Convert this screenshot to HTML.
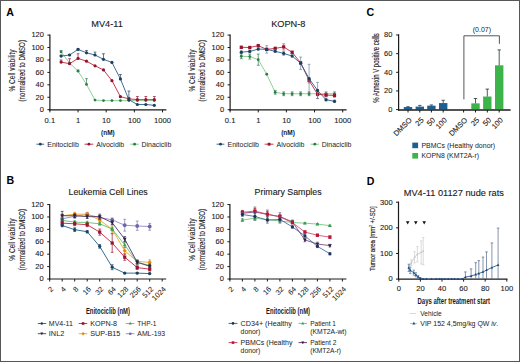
<!DOCTYPE html>
<html><head><meta charset="utf-8"><style>
html,body{margin:0;padding:0;background:#fff;}
body{width:520px;height:362px;overflow:hidden;position:relative;font-family:"Liberation Sans",sans-serif;}
</style></head><body>
<svg width="520" height="362" viewBox="0 0 520 362" style="position:absolute;left:0;top:0">
<g font-family="Liberation Sans, sans-serif">
<rect x="0" y="0" width="520" height="362" fill="#fff"/>
<text x="6.2" y="15.8" font-size="10.6" text-anchor="start" font-weight="bold" fill="#000">A</text>
<text x="6.6" y="184.2" font-size="10.6" text-anchor="start" font-weight="bold" fill="#000">B</text>
<text x="366.4" y="16.3" font-size="10.6" text-anchor="start" font-weight="bold" fill="#000">C</text>
<text x="366.8" y="184.6" font-size="10.6" text-anchor="start" font-weight="bold" fill="#000">D</text>
<text x="107" y="26.6" font-size="9.2" text-anchor="middle" font-weight="normal" fill="#1a1a1a" stroke="#1a1a1a" stroke-width="0.12">MV4-11</text>
<text x="0" y="0" transform="translate(14.6,70.5) rotate(-90)" font-size="8.2" text-anchor="middle" font-weight="normal" fill="#1a1a1a" stroke="#1a1a1a" stroke-width="0.1" textLength="42.2" lengthAdjust="spacingAndGlyphs">% Cell viability</text>
<text x="0" y="0" transform="translate(24.5,70.75) rotate(-90)" font-size="8.2" text-anchor="middle" font-weight="normal" fill="#1a1a1a" stroke="#1a1a1a" stroke-width="0.1" textLength="61.4" lengthAdjust="spacingAndGlyphs">(normalized to DMSO)</text>
<line x1="49.9" y1="34.4" x2="49.9" y2="110.5" stroke="#1a1a1a" stroke-width="1.2"/>
<line x1="47.4" y1="109.7" x2="49.9" y2="109.7" stroke="#1a1a1a" stroke-width="1.0"/>
<text x="43.9" y="112" font-size="7.5" text-anchor="end" font-weight="normal" fill="#1a1a1a" stroke="#1a1a1a" stroke-width="0.1">0</text>
<line x1="47.4" y1="97.27" x2="49.9" y2="97.27" stroke="#1a1a1a" stroke-width="1.0"/>
<text x="43.9" y="99.57" font-size="7.5" text-anchor="end" font-weight="normal" fill="#1a1a1a" stroke="#1a1a1a" stroke-width="0.1">20</text>
<line x1="47.4" y1="84.83" x2="49.9" y2="84.83" stroke="#1a1a1a" stroke-width="1.0"/>
<text x="43.9" y="87.13" font-size="7.5" text-anchor="end" font-weight="normal" fill="#1a1a1a" stroke="#1a1a1a" stroke-width="0.1">40</text>
<line x1="47.4" y1="72.4" x2="49.9" y2="72.4" stroke="#1a1a1a" stroke-width="1.0"/>
<text x="43.9" y="74.7" font-size="7.5" text-anchor="end" font-weight="normal" fill="#1a1a1a" stroke="#1a1a1a" stroke-width="0.1">60</text>
<line x1="47.4" y1="59.96" x2="49.9" y2="59.96" stroke="#1a1a1a" stroke-width="1.0"/>
<text x="43.9" y="62.26" font-size="7.5" text-anchor="end" font-weight="normal" fill="#1a1a1a" stroke="#1a1a1a" stroke-width="0.1">80</text>
<line x1="47.4" y1="47.53" x2="49.9" y2="47.53" stroke="#1a1a1a" stroke-width="1.0"/>
<text x="43.9" y="49.83" font-size="7.5" text-anchor="end" font-weight="normal" fill="#1a1a1a" stroke="#1a1a1a" stroke-width="0.1">100</text>
<line x1="47.4" y1="35.1" x2="49.9" y2="35.1" stroke="#1a1a1a" stroke-width="1.0"/>
<text x="43.9" y="37.4" font-size="7.5" text-anchor="end" font-weight="normal" fill="#1a1a1a" stroke="#1a1a1a" stroke-width="0.1">120</text>
<line x1="49.3" y1="109.9" x2="166.4" y2="109.9" stroke="#1a1a1a" stroke-width="1.2"/>
<line x1="49.9" y1="109.9" x2="49.9" y2="112.4" stroke="#1a1a1a" stroke-width="1.0"/>
<line x1="78.05" y1="109.9" x2="78.05" y2="112.4" stroke="#1a1a1a" stroke-width="1.0"/>
<line x1="106.2" y1="109.9" x2="106.2" y2="112.4" stroke="#1a1a1a" stroke-width="1.0"/>
<line x1="134.35" y1="109.9" x2="134.35" y2="112.4" stroke="#1a1a1a" stroke-width="1.0"/>
<line x1="162.5" y1="109.9" x2="162.5" y2="112.4" stroke="#1a1a1a" stroke-width="1.0"/>
<text x="49.9" y="122.6" font-size="7.6" text-anchor="middle" font-weight="normal" fill="#1a1a1a" stroke="#1a1a1a" stroke-width="0.1">0.1</text>
<text x="78.05" y="122.6" font-size="7.6" text-anchor="middle" font-weight="normal" fill="#1a1a1a" stroke="#1a1a1a" stroke-width="0.1">1</text>
<text x="106.2" y="122.6" font-size="7.6" text-anchor="middle" font-weight="normal" fill="#1a1a1a" stroke="#1a1a1a" stroke-width="0.1">10</text>
<text x="134.35" y="122.6" font-size="7.6" text-anchor="middle" font-weight="normal" fill="#1a1a1a" stroke="#1a1a1a" stroke-width="0.1">100</text>
<text x="162.5" y="122.6" font-size="7.6" text-anchor="middle" font-weight="normal" fill="#1a1a1a" stroke="#1a1a1a" stroke-width="0.1">1000</text>
<text x="107.9" y="134.7" font-size="8.1" text-anchor="middle" font-weight="bold" fill="#1a1a1a" textLength="13.8" lengthAdjust="spacingAndGlyphs">(nM)</text>
<polyline points="61.1,51.88 69.58,63.07 78.05,71.15 86.52,84.46 95,100.06 103.47,100.62 111.95,100.62 120.42,100.62 128.89,100.62 137.37,100.62 145.84,100.62 154.32,100.62" fill="none" stroke="#6cc878" stroke-width="0.8" stroke-linejoin="round"/>
<line x1="61.1" y1="50.64" x2="61.1" y2="51.88" stroke="#2e7a4a" stroke-width="0.7"/>
<line x1="59.7" y1="50.64" x2="62.5" y2="50.64" stroke="#2e7a4a" stroke-width="0.7"/>
<line x1="78.05" y1="69.91" x2="78.05" y2="71.15" stroke="#2e7a4a" stroke-width="0.7"/>
<line x1="76.65" y1="69.91" x2="79.45" y2="69.91" stroke="#2e7a4a" stroke-width="0.7"/>
<line x1="86.52" y1="78.62" x2="86.52" y2="84.46" stroke="#2e7a4a" stroke-width="0.7"/>
<line x1="85.12" y1="78.62" x2="87.92" y2="78.62" stroke="#2e7a4a" stroke-width="0.7"/>
<circle cx="61.1" cy="51.88" r="1.4" fill="#2e7a4a"/>
<circle cx="69.58" cy="63.07" r="1.4" fill="#2e7a4a"/>
<circle cx="78.05" cy="71.15" r="1.4" fill="#2e7a4a"/>
<circle cx="86.52" cy="84.46" r="1.4" fill="#2e7a4a"/>
<circle cx="95" cy="100.06" r="1.4" fill="#2e7a4a"/>
<circle cx="103.47" cy="100.62" r="1.4" fill="#2e7a4a"/>
<circle cx="111.95" cy="100.62" r="1.4" fill="#2e7a4a"/>
<circle cx="120.42" cy="100.62" r="1.4" fill="#2e7a4a"/>
<circle cx="128.89" cy="100.62" r="1.4" fill="#2e7a4a"/>
<circle cx="137.37" cy="100.62" r="1.4" fill="#2e7a4a"/>
<circle cx="145.84" cy="100.62" r="1.4" fill="#2e7a4a"/>
<circle cx="154.32" cy="100.62" r="1.4" fill="#2e7a4a"/>
<polyline points="61.1,62.08 69.58,63.69 78.05,58.41 86.52,61.21 95,65.87 103.47,69.91 111.95,80.67 120.42,96.64 128.89,98.82 137.37,99.63 145.84,99.63 154.32,99.63" fill="none" stroke="#c42242" stroke-width="0.9" stroke-linejoin="round"/>
<line x1="61.1" y1="59.96" x2="61.1" y2="62.08" stroke="#92142e" stroke-width="0.7"/>
<line x1="59.7" y1="59.96" x2="62.5" y2="59.96" stroke="#92142e" stroke-width="0.7"/>
<line x1="69.58" y1="58.72" x2="69.58" y2="63.69" stroke="#92142e" stroke-width="0.7"/>
<line x1="68.18" y1="58.72" x2="70.98" y2="58.72" stroke="#92142e" stroke-width="0.7"/>
<line x1="78.05" y1="53.75" x2="78.05" y2="58.41" stroke="#92142e" stroke-width="0.7"/>
<line x1="76.65" y1="53.75" x2="79.45" y2="53.75" stroke="#92142e" stroke-width="0.7"/>
<line x1="128.89" y1="97.58" x2="128.89" y2="98.82" stroke="#92142e" stroke-width="0.7"/>
<line x1="127.49" y1="97.58" x2="130.29" y2="97.58" stroke="#92142e" stroke-width="0.7"/>
<line x1="137.37" y1="96.52" x2="137.37" y2="99.63" stroke="#92142e" stroke-width="0.7"/>
<line x1="135.97" y1="96.52" x2="138.77" y2="96.52" stroke="#92142e" stroke-width="0.7"/>
<line x1="145.84" y1="96.52" x2="145.84" y2="99.63" stroke="#92142e" stroke-width="0.7"/>
<line x1="144.44" y1="96.52" x2="147.24" y2="96.52" stroke="#92142e" stroke-width="0.7"/>
<line x1="154.32" y1="96.52" x2="154.32" y2="99.63" stroke="#92142e" stroke-width="0.7"/>
<line x1="152.92" y1="96.52" x2="155.72" y2="96.52" stroke="#92142e" stroke-width="0.7"/>
<circle cx="61.1" cy="62.08" r="1.6" fill="#92142e"/>
<circle cx="69.58" cy="63.69" r="1.6" fill="#92142e"/>
<circle cx="78.05" cy="58.41" r="1.6" fill="#92142e"/>
<circle cx="86.52" cy="61.21" r="1.6" fill="#92142e"/>
<circle cx="95" cy="65.87" r="1.6" fill="#92142e"/>
<circle cx="103.47" cy="69.91" r="1.6" fill="#92142e"/>
<circle cx="111.95" cy="80.67" r="1.6" fill="#92142e"/>
<circle cx="120.42" cy="96.64" r="1.6" fill="#92142e"/>
<circle cx="128.89" cy="98.82" r="1.6" fill="#92142e"/>
<circle cx="137.37" cy="99.63" r="1.6" fill="#92142e"/>
<circle cx="145.84" cy="99.63" r="1.6" fill="#92142e"/>
<circle cx="154.32" cy="99.63" r="1.6" fill="#92142e"/>
<polyline points="61.1,56.11 69.58,54.99 78.05,49.4 86.52,52.81 95,54.99 103.47,59.34 111.95,62.45 120.42,78.93 128.89,99.75 137.37,104.48 145.84,104.48 154.32,105.35" fill="none" stroke="#2a5f88" stroke-width="0.9" stroke-linejoin="round"/>
<line x1="61.1" y1="55.18" x2="61.1" y2="56.11" stroke="#1c3f5e" stroke-width="0.7"/>
<line x1="59.7" y1="55.18" x2="62.5" y2="55.18" stroke="#1c3f5e" stroke-width="0.7"/>
<line x1="69.58" y1="54.37" x2="69.58" y2="54.99" stroke="#1c3f5e" stroke-width="0.7"/>
<line x1="68.18" y1="54.37" x2="70.98" y2="54.37" stroke="#1c3f5e" stroke-width="0.7"/>
<line x1="78.05" y1="48.65" x2="78.05" y2="49.4" stroke="#1c3f5e" stroke-width="0.7"/>
<line x1="76.65" y1="48.65" x2="79.45" y2="48.65" stroke="#1c3f5e" stroke-width="0.7"/>
<line x1="86.52" y1="50.45" x2="86.52" y2="52.81" stroke="#1c3f5e" stroke-width="0.7"/>
<line x1="85.12" y1="50.45" x2="87.92" y2="50.45" stroke="#1c3f5e" stroke-width="0.7"/>
<line x1="95" y1="52.13" x2="95" y2="54.99" stroke="#1c3f5e" stroke-width="0.7"/>
<line x1="93.6" y1="52.13" x2="96.4" y2="52.13" stroke="#1c3f5e" stroke-width="0.7"/>
<line x1="103.47" y1="53.75" x2="103.47" y2="59.34" stroke="#1c3f5e" stroke-width="0.7"/>
<line x1="102.07" y1="53.75" x2="104.87" y2="53.75" stroke="#1c3f5e" stroke-width="0.7"/>
<line x1="120.42" y1="74.57" x2="120.42" y2="78.93" stroke="#1c3f5e" stroke-width="0.7"/>
<line x1="119.02" y1="74.57" x2="121.82" y2="74.57" stroke="#1c3f5e" stroke-width="0.7"/>
<line x1="128.89" y1="91.05" x2="128.89" y2="99.75" stroke="#1c3f5e" stroke-width="0.7"/>
<line x1="127.49" y1="91.05" x2="130.29" y2="91.05" stroke="#1c3f5e" stroke-width="0.7"/>
<circle cx="61.1" cy="56.11" r="1.6" fill="#1c3f5e"/>
<circle cx="69.58" cy="54.99" r="1.6" fill="#1c3f5e"/>
<circle cx="78.05" cy="49.4" r="1.6" fill="#1c3f5e"/>
<circle cx="86.52" cy="52.81" r="1.6" fill="#1c3f5e"/>
<circle cx="95" cy="54.99" r="1.6" fill="#1c3f5e"/>
<circle cx="103.47" cy="59.34" r="1.6" fill="#1c3f5e"/>
<circle cx="111.95" cy="62.45" r="1.6" fill="#1c3f5e"/>
<circle cx="120.42" cy="78.93" r="1.6" fill="#1c3f5e"/>
<circle cx="128.89" cy="99.75" r="1.6" fill="#1c3f5e"/>
<circle cx="137.37" cy="104.48" r="1.6" fill="#1c3f5e"/>
<circle cx="145.84" cy="104.48" r="1.6" fill="#1c3f5e"/>
<circle cx="154.32" cy="105.35" r="1.6" fill="#1c3f5e"/>
<line x1="36.4" y1="144.2" x2="44.2" y2="144.2" stroke="#2a5f88" stroke-width="0.9"/>
<circle cx="40.3" cy="144.2" r="1.4" fill="#1c3f5e"/>
<text x="47.3" y="146.7" font-size="7.0" text-anchor="start" font-weight="normal" fill="#1a1a1a" textLength="31.5" lengthAdjust="spacingAndGlyphs">Enitociclib</text>
<line x1="84.5" y1="144.2" x2="93.3" y2="144.2" stroke="#c42242" stroke-width="0.9"/>
<circle cx="88.9" cy="144.2" r="1.4" fill="#92142e"/>
<text x="96.3" y="146.7" font-size="7.0" text-anchor="start" font-weight="normal" fill="#1a1a1a" textLength="27.9" lengthAdjust="spacingAndGlyphs">Alvocidib</text>
<line x1="130.4" y1="144.2" x2="138.7" y2="144.2" stroke="#6cc878" stroke-width="0.9"/>
<circle cx="134.6" cy="144.2" r="1.4" fill="#2e7a4a"/>
<text x="141.5" y="146.7" font-size="7.0" text-anchor="start" font-weight="normal" fill="#1a1a1a" textLength="29.8" lengthAdjust="spacingAndGlyphs">Dinaciclib</text>
<text x="288.3" y="26.6" font-size="9.2" text-anchor="middle" font-weight="normal" fill="#1a1a1a" stroke="#1a1a1a" stroke-width="0.12">KOPN-8</text>
<text x="0" y="0" transform="translate(194.8,70.5) rotate(-90)" font-size="8.2" text-anchor="middle" font-weight="normal" fill="#1a1a1a" stroke="#1a1a1a" stroke-width="0.1" textLength="42.2" lengthAdjust="spacingAndGlyphs">% Cell viability</text>
<text x="0" y="0" transform="translate(204.7,70.75) rotate(-90)" font-size="8.2" text-anchor="middle" font-weight="normal" fill="#1a1a1a" stroke="#1a1a1a" stroke-width="0.1" textLength="61.4" lengthAdjust="spacingAndGlyphs">(normalized to DMSO)</text>
<line x1="230.1" y1="34.4" x2="230.1" y2="110.5" stroke="#1a1a1a" stroke-width="1.2"/>
<line x1="227.6" y1="109.7" x2="230.1" y2="109.7" stroke="#1a1a1a" stroke-width="1.0"/>
<text x="224.1" y="112" font-size="7.5" text-anchor="end" font-weight="normal" fill="#1a1a1a" stroke="#1a1a1a" stroke-width="0.1">0</text>
<line x1="227.6" y1="97.27" x2="230.1" y2="97.27" stroke="#1a1a1a" stroke-width="1.0"/>
<text x="224.1" y="99.57" font-size="7.5" text-anchor="end" font-weight="normal" fill="#1a1a1a" stroke="#1a1a1a" stroke-width="0.1">20</text>
<line x1="227.6" y1="84.83" x2="230.1" y2="84.83" stroke="#1a1a1a" stroke-width="1.0"/>
<text x="224.1" y="87.13" font-size="7.5" text-anchor="end" font-weight="normal" fill="#1a1a1a" stroke="#1a1a1a" stroke-width="0.1">40</text>
<line x1="227.6" y1="72.4" x2="230.1" y2="72.4" stroke="#1a1a1a" stroke-width="1.0"/>
<text x="224.1" y="74.7" font-size="7.5" text-anchor="end" font-weight="normal" fill="#1a1a1a" stroke="#1a1a1a" stroke-width="0.1">60</text>
<line x1="227.6" y1="59.96" x2="230.1" y2="59.96" stroke="#1a1a1a" stroke-width="1.0"/>
<text x="224.1" y="62.26" font-size="7.5" text-anchor="end" font-weight="normal" fill="#1a1a1a" stroke="#1a1a1a" stroke-width="0.1">80</text>
<line x1="227.6" y1="47.53" x2="230.1" y2="47.53" stroke="#1a1a1a" stroke-width="1.0"/>
<text x="224.1" y="49.83" font-size="7.5" text-anchor="end" font-weight="normal" fill="#1a1a1a" stroke="#1a1a1a" stroke-width="0.1">100</text>
<line x1="227.6" y1="35.1" x2="230.1" y2="35.1" stroke="#1a1a1a" stroke-width="1.0"/>
<text x="224.1" y="37.4" font-size="7.5" text-anchor="end" font-weight="normal" fill="#1a1a1a" stroke="#1a1a1a" stroke-width="0.1">120</text>
<line x1="229.5" y1="109.9" x2="346.6" y2="109.9" stroke="#1a1a1a" stroke-width="1.2"/>
<line x1="230.1" y1="109.9" x2="230.1" y2="112.4" stroke="#1a1a1a" stroke-width="1.0"/>
<line x1="258.25" y1="109.9" x2="258.25" y2="112.4" stroke="#1a1a1a" stroke-width="1.0"/>
<line x1="286.4" y1="109.9" x2="286.4" y2="112.4" stroke="#1a1a1a" stroke-width="1.0"/>
<line x1="314.55" y1="109.9" x2="314.55" y2="112.4" stroke="#1a1a1a" stroke-width="1.0"/>
<line x1="342.7" y1="109.9" x2="342.7" y2="112.4" stroke="#1a1a1a" stroke-width="1.0"/>
<text x="230.1" y="122.6" font-size="7.6" text-anchor="middle" font-weight="normal" fill="#1a1a1a" stroke="#1a1a1a" stroke-width="0.1">0.1</text>
<text x="258.25" y="122.6" font-size="7.6" text-anchor="middle" font-weight="normal" fill="#1a1a1a" stroke="#1a1a1a" stroke-width="0.1">1</text>
<text x="286.4" y="122.6" font-size="7.6" text-anchor="middle" font-weight="normal" fill="#1a1a1a" stroke="#1a1a1a" stroke-width="0.1">10</text>
<text x="314.55" y="122.6" font-size="7.6" text-anchor="middle" font-weight="normal" fill="#1a1a1a" stroke="#1a1a1a" stroke-width="0.1">100</text>
<text x="342.7" y="122.6" font-size="7.6" text-anchor="middle" font-weight="normal" fill="#1a1a1a" stroke="#1a1a1a" stroke-width="0.1">1000</text>
<text x="288.1" y="134.7" font-size="8.1" text-anchor="middle" font-weight="bold" fill="#1a1a1a" textLength="13.8" lengthAdjust="spacingAndGlyphs">(nM)</text>
<polyline points="241.3,56.23 249.78,56.61 258.25,59.65 266.72,74.26 275.2,92.29 283.67,93.78 292.15,93.78 300.62,93.78 309.09,93.78 317.57,93.78 326.04,93.78 334.52,93.78" fill="none" stroke="#6cc878" stroke-width="0.8" stroke-linejoin="round"/>
<line x1="241.3" y1="53.75" x2="241.3" y2="58.72" stroke="#2e7a4a" stroke-width="0.7"/>
<line x1="239.9" y1="53.75" x2="242.7" y2="53.75" stroke="#2e7a4a" stroke-width="0.7"/>
<line x1="239.9" y1="58.72" x2="242.7" y2="58.72" stroke="#2e7a4a" stroke-width="0.7"/>
<line x1="249.78" y1="54.12" x2="249.78" y2="59.09" stroke="#2e7a4a" stroke-width="0.7"/>
<line x1="248.38" y1="54.12" x2="251.18" y2="54.12" stroke="#2e7a4a" stroke-width="0.7"/>
<line x1="248.38" y1="59.09" x2="251.18" y2="59.09" stroke="#2e7a4a" stroke-width="0.7"/>
<line x1="258.25" y1="54.06" x2="258.25" y2="65.25" stroke="#2e7a4a" stroke-width="0.7"/>
<line x1="256.85" y1="54.06" x2="259.65" y2="54.06" stroke="#2e7a4a" stroke-width="0.7"/>
<line x1="256.85" y1="65.25" x2="259.65" y2="65.25" stroke="#2e7a4a" stroke-width="0.7"/>
<line x1="275.2" y1="90.43" x2="275.2" y2="94.16" stroke="#2e7a4a" stroke-width="0.7"/>
<line x1="273.8" y1="90.43" x2="276.6" y2="90.43" stroke="#2e7a4a" stroke-width="0.7"/>
<line x1="273.8" y1="94.16" x2="276.6" y2="94.16" stroke="#2e7a4a" stroke-width="0.7"/>
<line x1="283.67" y1="91.92" x2="283.67" y2="95.65" stroke="#2e7a4a" stroke-width="0.7"/>
<line x1="282.27" y1="91.92" x2="285.07" y2="91.92" stroke="#2e7a4a" stroke-width="0.7"/>
<line x1="282.27" y1="95.65" x2="285.07" y2="95.65" stroke="#2e7a4a" stroke-width="0.7"/>
<line x1="292.15" y1="91.92" x2="292.15" y2="95.65" stroke="#2e7a4a" stroke-width="0.7"/>
<line x1="290.75" y1="91.92" x2="293.55" y2="91.92" stroke="#2e7a4a" stroke-width="0.7"/>
<line x1="290.75" y1="95.65" x2="293.55" y2="95.65" stroke="#2e7a4a" stroke-width="0.7"/>
<line x1="300.62" y1="91.92" x2="300.62" y2="95.65" stroke="#2e7a4a" stroke-width="0.7"/>
<line x1="299.22" y1="91.92" x2="302.02" y2="91.92" stroke="#2e7a4a" stroke-width="0.7"/>
<line x1="299.22" y1="95.65" x2="302.02" y2="95.65" stroke="#2e7a4a" stroke-width="0.7"/>
<line x1="309.09" y1="91.92" x2="309.09" y2="95.65" stroke="#2e7a4a" stroke-width="0.7"/>
<line x1="307.69" y1="91.92" x2="310.49" y2="91.92" stroke="#2e7a4a" stroke-width="0.7"/>
<line x1="307.69" y1="95.65" x2="310.49" y2="95.65" stroke="#2e7a4a" stroke-width="0.7"/>
<line x1="317.57" y1="91.92" x2="317.57" y2="95.65" stroke="#2e7a4a" stroke-width="0.7"/>
<line x1="316.17" y1="91.92" x2="318.97" y2="91.92" stroke="#2e7a4a" stroke-width="0.7"/>
<line x1="316.17" y1="95.65" x2="318.97" y2="95.65" stroke="#2e7a4a" stroke-width="0.7"/>
<line x1="326.04" y1="91.92" x2="326.04" y2="95.65" stroke="#2e7a4a" stroke-width="0.7"/>
<line x1="324.64" y1="91.92" x2="327.44" y2="91.92" stroke="#2e7a4a" stroke-width="0.7"/>
<line x1="324.64" y1="95.65" x2="327.44" y2="95.65" stroke="#2e7a4a" stroke-width="0.7"/>
<line x1="334.52" y1="91.92" x2="334.52" y2="95.65" stroke="#2e7a4a" stroke-width="0.7"/>
<line x1="333.12" y1="91.92" x2="335.92" y2="91.92" stroke="#2e7a4a" stroke-width="0.7"/>
<line x1="333.12" y1="95.65" x2="335.92" y2="95.65" stroke="#2e7a4a" stroke-width="0.7"/>
<circle cx="241.3" cy="56.23" r="1.4" fill="#2e7a4a"/>
<circle cx="249.78" cy="56.61" r="1.4" fill="#2e7a4a"/>
<circle cx="258.25" cy="59.65" r="1.4" fill="#2e7a4a"/>
<circle cx="266.72" cy="74.26" r="1.4" fill="#2e7a4a"/>
<circle cx="275.2" cy="92.29" r="1.4" fill="#2e7a4a"/>
<circle cx="283.67" cy="93.78" r="1.4" fill="#2e7a4a"/>
<circle cx="292.15" cy="93.78" r="1.4" fill="#2e7a4a"/>
<circle cx="300.62" cy="93.78" r="1.4" fill="#2e7a4a"/>
<circle cx="309.09" cy="93.78" r="1.4" fill="#2e7a4a"/>
<circle cx="317.57" cy="93.78" r="1.4" fill="#2e7a4a"/>
<circle cx="326.04" cy="93.78" r="1.4" fill="#2e7a4a"/>
<circle cx="334.52" cy="93.78" r="1.4" fill="#2e7a4a"/>
<polyline points="241.3,47.34 249.78,47.53 258.25,45.66 266.72,49.4 275.2,48.4 283.67,46.91 292.15,52.32 300.62,62.76 309.09,80.48 317.57,94.28 326.04,95.09 334.52,95.4" fill="none" stroke="#c42242" stroke-width="0.9" stroke-linejoin="round"/>
<line x1="241.3" y1="46.1" x2="241.3" y2="48.59" stroke="#c04a60" stroke-width="0.7"/>
<line x1="239.9" y1="46.1" x2="242.7" y2="46.1" stroke="#c04a60" stroke-width="0.7"/>
<line x1="239.9" y1="48.59" x2="242.7" y2="48.59" stroke="#c04a60" stroke-width="0.7"/>
<line x1="249.78" y1="46.29" x2="249.78" y2="48.77" stroke="#c04a60" stroke-width="0.7"/>
<line x1="248.38" y1="46.29" x2="251.18" y2="46.29" stroke="#c04a60" stroke-width="0.7"/>
<line x1="248.38" y1="48.77" x2="251.18" y2="48.77" stroke="#c04a60" stroke-width="0.7"/>
<line x1="258.25" y1="44.42" x2="258.25" y2="46.91" stroke="#c04a60" stroke-width="0.7"/>
<line x1="256.85" y1="44.42" x2="259.65" y2="44.42" stroke="#c04a60" stroke-width="0.7"/>
<line x1="256.85" y1="46.91" x2="259.65" y2="46.91" stroke="#c04a60" stroke-width="0.7"/>
<line x1="266.72" y1="48.15" x2="266.72" y2="50.64" stroke="#c04a60" stroke-width="0.7"/>
<line x1="265.32" y1="48.15" x2="268.12" y2="48.15" stroke="#c04a60" stroke-width="0.7"/>
<line x1="265.32" y1="50.64" x2="268.12" y2="50.64" stroke="#c04a60" stroke-width="0.7"/>
<line x1="275.2" y1="47.16" x2="275.2" y2="49.64" stroke="#c04a60" stroke-width="0.7"/>
<line x1="273.8" y1="47.16" x2="276.6" y2="47.16" stroke="#c04a60" stroke-width="0.7"/>
<line x1="273.8" y1="49.64" x2="276.6" y2="49.64" stroke="#c04a60" stroke-width="0.7"/>
<line x1="283.67" y1="43.8" x2="283.67" y2="50.02" stroke="#c04a60" stroke-width="0.7"/>
<line x1="282.27" y1="43.8" x2="285.07" y2="43.8" stroke="#c04a60" stroke-width="0.7"/>
<line x1="282.27" y1="50.02" x2="285.07" y2="50.02" stroke="#c04a60" stroke-width="0.7"/>
<line x1="292.15" y1="51.07" x2="292.15" y2="53.56" stroke="#c04a60" stroke-width="0.7"/>
<line x1="290.75" y1="51.07" x2="293.55" y2="51.07" stroke="#c04a60" stroke-width="0.7"/>
<line x1="290.75" y1="53.56" x2="293.55" y2="53.56" stroke="#c04a60" stroke-width="0.7"/>
<line x1="300.62" y1="61.52" x2="300.62" y2="64.01" stroke="#c04a60" stroke-width="0.7"/>
<line x1="299.22" y1="61.52" x2="302.02" y2="61.52" stroke="#c04a60" stroke-width="0.7"/>
<line x1="299.22" y1="64.01" x2="302.02" y2="64.01" stroke="#c04a60" stroke-width="0.7"/>
<line x1="309.09" y1="77.99" x2="309.09" y2="82.97" stroke="#c04a60" stroke-width="0.7"/>
<line x1="307.69" y1="77.99" x2="310.49" y2="77.99" stroke="#c04a60" stroke-width="0.7"/>
<line x1="307.69" y1="82.97" x2="310.49" y2="82.97" stroke="#c04a60" stroke-width="0.7"/>
<line x1="317.57" y1="89.93" x2="317.57" y2="98.63" stroke="#c04a60" stroke-width="0.7"/>
<line x1="316.17" y1="89.93" x2="318.97" y2="89.93" stroke="#c04a60" stroke-width="0.7"/>
<line x1="316.17" y1="98.63" x2="318.97" y2="98.63" stroke="#c04a60" stroke-width="0.7"/>
<line x1="326.04" y1="93.22" x2="326.04" y2="96.96" stroke="#c04a60" stroke-width="0.7"/>
<line x1="324.64" y1="93.22" x2="327.44" y2="93.22" stroke="#c04a60" stroke-width="0.7"/>
<line x1="324.64" y1="96.96" x2="327.44" y2="96.96" stroke="#c04a60" stroke-width="0.7"/>
<line x1="334.52" y1="93.54" x2="334.52" y2="97.27" stroke="#c04a60" stroke-width="0.7"/>
<line x1="333.12" y1="93.54" x2="335.92" y2="93.54" stroke="#c04a60" stroke-width="0.7"/>
<line x1="333.12" y1="97.27" x2="335.92" y2="97.27" stroke="#c04a60" stroke-width="0.7"/>
<rect x="239.7" y="45.74" width="3.2" height="3.2" fill="#92142e"/>
<rect x="248.18" y="45.93" width="3.2" height="3.2" fill="#92142e"/>
<rect x="256.65" y="44.06" width="3.2" height="3.2" fill="#92142e"/>
<rect x="265.12" y="47.8" width="3.2" height="3.2" fill="#92142e"/>
<rect x="273.6" y="46.8" width="3.2" height="3.2" fill="#92142e"/>
<rect x="282.07" y="45.31" width="3.2" height="3.2" fill="#92142e"/>
<rect x="290.55" y="50.72" width="3.2" height="3.2" fill="#92142e"/>
<rect x="299.02" y="61.16" width="3.2" height="3.2" fill="#92142e"/>
<rect x="307.49" y="78.88" width="3.2" height="3.2" fill="#92142e"/>
<rect x="315.97" y="92.68" width="3.2" height="3.2" fill="#92142e"/>
<rect x="324.44" y="93.49" width="3.2" height="3.2" fill="#92142e"/>
<rect x="332.92" y="93.8" width="3.2" height="3.2" fill="#92142e"/>
<polyline points="241.3,52.13 249.78,51.45 258.25,49.02 266.72,49.4 275.2,51.26 283.67,53.44 292.15,55.99 300.62,63.26 309.09,78.62 317.57,90.43 326.04,99.75 334.52,101.31" fill="none" stroke="#2a5f88" stroke-width="0.9" stroke-linejoin="round"/>
<line x1="241.3" y1="50.89" x2="241.3" y2="53.37" stroke="#6f86a4" stroke-width="0.7"/>
<line x1="239.9" y1="50.89" x2="242.7" y2="50.89" stroke="#6f86a4" stroke-width="0.7"/>
<line x1="239.9" y1="53.37" x2="242.7" y2="53.37" stroke="#6f86a4" stroke-width="0.7"/>
<line x1="249.78" y1="50.2" x2="249.78" y2="52.69" stroke="#6f86a4" stroke-width="0.7"/>
<line x1="248.38" y1="50.2" x2="251.18" y2="50.2" stroke="#6f86a4" stroke-width="0.7"/>
<line x1="248.38" y1="52.69" x2="251.18" y2="52.69" stroke="#6f86a4" stroke-width="0.7"/>
<line x1="258.25" y1="47.78" x2="258.25" y2="50.27" stroke="#6f86a4" stroke-width="0.7"/>
<line x1="256.85" y1="47.78" x2="259.65" y2="47.78" stroke="#6f86a4" stroke-width="0.7"/>
<line x1="256.85" y1="50.27" x2="259.65" y2="50.27" stroke="#6f86a4" stroke-width="0.7"/>
<line x1="266.72" y1="45.66" x2="266.72" y2="53.13" stroke="#6f86a4" stroke-width="0.7"/>
<line x1="265.32" y1="45.66" x2="268.12" y2="45.66" stroke="#6f86a4" stroke-width="0.7"/>
<line x1="265.32" y1="53.13" x2="268.12" y2="53.13" stroke="#6f86a4" stroke-width="0.7"/>
<line x1="275.2" y1="50.02" x2="275.2" y2="52.5" stroke="#6f86a4" stroke-width="0.7"/>
<line x1="273.8" y1="50.02" x2="276.6" y2="50.02" stroke="#6f86a4" stroke-width="0.7"/>
<line x1="273.8" y1="52.5" x2="276.6" y2="52.5" stroke="#6f86a4" stroke-width="0.7"/>
<line x1="283.67" y1="51.57" x2="283.67" y2="55.3" stroke="#6f86a4" stroke-width="0.7"/>
<line x1="282.27" y1="51.57" x2="285.07" y2="51.57" stroke="#6f86a4" stroke-width="0.7"/>
<line x1="282.27" y1="55.3" x2="285.07" y2="55.3" stroke="#6f86a4" stroke-width="0.7"/>
<line x1="292.15" y1="54.74" x2="292.15" y2="57.23" stroke="#6f86a4" stroke-width="0.7"/>
<line x1="290.75" y1="54.74" x2="293.55" y2="54.74" stroke="#6f86a4" stroke-width="0.7"/>
<line x1="290.75" y1="57.23" x2="293.55" y2="57.23" stroke="#6f86a4" stroke-width="0.7"/>
<line x1="300.62" y1="57.04" x2="300.62" y2="69.48" stroke="#6f86a4" stroke-width="0.7"/>
<line x1="299.22" y1="57.04" x2="302.02" y2="57.04" stroke="#6f86a4" stroke-width="0.7"/>
<line x1="299.22" y1="69.48" x2="302.02" y2="69.48" stroke="#6f86a4" stroke-width="0.7"/>
<line x1="309.09" y1="64.32" x2="309.09" y2="92.91" stroke="#6f86a4" stroke-width="0.7"/>
<line x1="307.69" y1="64.32" x2="310.49" y2="64.32" stroke="#6f86a4" stroke-width="0.7"/>
<line x1="307.69" y1="92.91" x2="310.49" y2="92.91" stroke="#6f86a4" stroke-width="0.7"/>
<line x1="317.57" y1="82.35" x2="317.57" y2="98.51" stroke="#6f86a4" stroke-width="0.7"/>
<line x1="316.17" y1="82.35" x2="318.97" y2="82.35" stroke="#6f86a4" stroke-width="0.7"/>
<line x1="316.17" y1="98.51" x2="318.97" y2="98.51" stroke="#6f86a4" stroke-width="0.7"/>
<line x1="326.04" y1="98.51" x2="326.04" y2="101" stroke="#6f86a4" stroke-width="0.7"/>
<line x1="324.64" y1="98.51" x2="327.44" y2="98.51" stroke="#6f86a4" stroke-width="0.7"/>
<line x1="324.64" y1="101" x2="327.44" y2="101" stroke="#6f86a4" stroke-width="0.7"/>
<line x1="334.52" y1="100.06" x2="334.52" y2="102.55" stroke="#6f86a4" stroke-width="0.7"/>
<line x1="333.12" y1="100.06" x2="335.92" y2="100.06" stroke="#6f86a4" stroke-width="0.7"/>
<line x1="333.12" y1="102.55" x2="335.92" y2="102.55" stroke="#6f86a4" stroke-width="0.7"/>
<circle cx="241.3" cy="52.13" r="1.6" fill="#1c3f5e"/>
<circle cx="249.78" cy="51.45" r="1.6" fill="#1c3f5e"/>
<circle cx="258.25" cy="49.02" r="1.6" fill="#1c3f5e"/>
<circle cx="266.72" cy="49.4" r="1.6" fill="#1c3f5e"/>
<circle cx="275.2" cy="51.26" r="1.6" fill="#1c3f5e"/>
<circle cx="283.67" cy="53.44" r="1.6" fill="#1c3f5e"/>
<circle cx="292.15" cy="55.99" r="1.6" fill="#1c3f5e"/>
<circle cx="300.62" cy="63.26" r="1.6" fill="#1c3f5e"/>
<circle cx="309.09" cy="78.62" r="1.6" fill="#1c3f5e"/>
<circle cx="317.57" cy="90.43" r="1.6" fill="#1c3f5e"/>
<circle cx="326.04" cy="99.75" r="1.6" fill="#1c3f5e"/>
<circle cx="334.52" cy="101.31" r="1.6" fill="#1c3f5e"/>
<line x1="216.6" y1="144.2" x2="224.4" y2="144.2" stroke="#2a5f88" stroke-width="0.9"/>
<circle cx="220.5" cy="144.2" r="1.4" fill="#1c3f5e"/>
<text x="227.5" y="146.7" font-size="7.0" text-anchor="start" font-weight="normal" fill="#1a1a1a" textLength="31.5" lengthAdjust="spacingAndGlyphs">Enitociclib</text>
<line x1="264.7" y1="144.2" x2="273.5" y2="144.2" stroke="#c42242" stroke-width="0.9"/>
<rect x="267.7" y="142.8" width="2.8" height="2.8" fill="#92142e"/>
<text x="276.5" y="146.7" font-size="7.0" text-anchor="start" font-weight="normal" fill="#1a1a1a" textLength="27.9" lengthAdjust="spacingAndGlyphs">Alvocidib</text>
<line x1="310.6" y1="144.2" x2="318.9" y2="144.2" stroke="#6cc878" stroke-width="0.9"/>
<circle cx="314.8" cy="144.2" r="1.4" fill="#2e7a4a"/>
<text x="321.7" y="146.7" font-size="7.0" text-anchor="start" font-weight="normal" fill="#1a1a1a" textLength="29.8" lengthAdjust="spacingAndGlyphs">Dinaciclib</text>
<text x="108.1" y="195.4" font-size="8.8" text-anchor="middle" font-weight="normal" fill="#1a1a1a" stroke="#1a1a1a" stroke-width="0.12">Leukemia Cell Lines</text>
<text x="0" y="0" transform="translate(14.6,239.6) rotate(-90)" font-size="8.2" text-anchor="middle" font-weight="normal" fill="#1a1a1a" stroke="#1a1a1a" stroke-width="0.1" textLength="42.2" lengthAdjust="spacingAndGlyphs">% Cell viability</text>
<text x="0" y="0" transform="translate(24.5,239.6) rotate(-90)" font-size="8.2" text-anchor="middle" font-weight="normal" fill="#1a1a1a" stroke="#1a1a1a" stroke-width="0.1" textLength="61.4" lengthAdjust="spacingAndGlyphs">(normalized to DMSO)</text>
<line x1="49.7" y1="204" x2="49.7" y2="279.6" stroke="#1a1a1a" stroke-width="1.2"/>
<line x1="47.2" y1="279" x2="49.7" y2="279" stroke="#1a1a1a" stroke-width="1.0"/>
<text x="43.7" y="281.3" font-size="7.5" text-anchor="end" font-weight="normal" fill="#1a1a1a" stroke="#1a1a1a" stroke-width="0.1">0</text>
<line x1="47.2" y1="266.59" x2="49.7" y2="266.59" stroke="#1a1a1a" stroke-width="1.0"/>
<text x="43.7" y="268.89" font-size="7.5" text-anchor="end" font-weight="normal" fill="#1a1a1a" stroke="#1a1a1a" stroke-width="0.1">20</text>
<line x1="47.2" y1="254.18" x2="49.7" y2="254.18" stroke="#1a1a1a" stroke-width="1.0"/>
<text x="43.7" y="256.48" font-size="7.5" text-anchor="end" font-weight="normal" fill="#1a1a1a" stroke="#1a1a1a" stroke-width="0.1">40</text>
<line x1="47.2" y1="241.78" x2="49.7" y2="241.78" stroke="#1a1a1a" stroke-width="1.0"/>
<text x="43.7" y="244.08" font-size="7.5" text-anchor="end" font-weight="normal" fill="#1a1a1a" stroke="#1a1a1a" stroke-width="0.1">60</text>
<line x1="47.2" y1="229.37" x2="49.7" y2="229.37" stroke="#1a1a1a" stroke-width="1.0"/>
<text x="43.7" y="231.67" font-size="7.5" text-anchor="end" font-weight="normal" fill="#1a1a1a" stroke="#1a1a1a" stroke-width="0.1">80</text>
<line x1="47.2" y1="216.96" x2="49.7" y2="216.96" stroke="#1a1a1a" stroke-width="1.0"/>
<text x="43.7" y="219.26" font-size="7.5" text-anchor="end" font-weight="normal" fill="#1a1a1a" stroke="#1a1a1a" stroke-width="0.1">100</text>
<line x1="47.2" y1="204.55" x2="49.7" y2="204.55" stroke="#1a1a1a" stroke-width="1.0"/>
<text x="43.7" y="206.85" font-size="7.5" text-anchor="end" font-weight="normal" fill="#1a1a1a" stroke="#1a1a1a" stroke-width="0.1">120</text>
<line x1="49.1" y1="279" x2="166.2" y2="279" stroke="#1a1a1a" stroke-width="1.2"/>
<line x1="49.7" y1="279" x2="49.7" y2="281.5" stroke="#1a1a1a" stroke-width="1.0"/>
<line x1="62.2" y1="279" x2="62.2" y2="281.5" stroke="#1a1a1a" stroke-width="1.0"/>
<line x1="74.7" y1="279" x2="74.7" y2="281.5" stroke="#1a1a1a" stroke-width="1.0"/>
<line x1="87.2" y1="279" x2="87.2" y2="281.5" stroke="#1a1a1a" stroke-width="1.0"/>
<line x1="99.7" y1="279" x2="99.7" y2="281.5" stroke="#1a1a1a" stroke-width="1.0"/>
<line x1="112.2" y1="279" x2="112.2" y2="281.5" stroke="#1a1a1a" stroke-width="1.0"/>
<line x1="124.7" y1="279" x2="124.7" y2="281.5" stroke="#1a1a1a" stroke-width="1.0"/>
<line x1="137.2" y1="279" x2="137.2" y2="281.5" stroke="#1a1a1a" stroke-width="1.0"/>
<line x1="149.7" y1="279" x2="149.7" y2="281.5" stroke="#1a1a1a" stroke-width="1.0"/>
<line x1="162.2" y1="279" x2="162.2" y2="281.5" stroke="#1a1a1a" stroke-width="1.0"/>
<text x="0" y="0" transform="translate(54,289.6) rotate(-45)" font-size="7.4" text-anchor="end" font-weight="normal" fill="#1a1a1a" stroke="#1a1a1a" stroke-width="0.05">2</text>
<text x="0" y="0" transform="translate(66.5,289.6) rotate(-45)" font-size="7.4" text-anchor="end" font-weight="normal" fill="#1a1a1a" stroke="#1a1a1a" stroke-width="0.05">4</text>
<text x="0" y="0" transform="translate(79,289.6) rotate(-45)" font-size="7.4" text-anchor="end" font-weight="normal" fill="#1a1a1a" stroke="#1a1a1a" stroke-width="0.05">8</text>
<text x="0" y="0" transform="translate(91.5,289.6) rotate(-45)" font-size="7.4" text-anchor="end" font-weight="normal" fill="#1a1a1a" stroke="#1a1a1a" stroke-width="0.05">16</text>
<text x="0" y="0" transform="translate(104,289.6) rotate(-45)" font-size="7.4" text-anchor="end" font-weight="normal" fill="#1a1a1a" stroke="#1a1a1a" stroke-width="0.05">32</text>
<text x="0" y="0" transform="translate(116.5,289.6) rotate(-45)" font-size="7.4" text-anchor="end" font-weight="normal" fill="#1a1a1a" stroke="#1a1a1a" stroke-width="0.05">64</text>
<text x="0" y="0" transform="translate(129,289.6) rotate(-45)" font-size="7.4" text-anchor="end" font-weight="normal" fill="#1a1a1a" stroke="#1a1a1a" stroke-width="0.05">128</text>
<text x="0" y="0" transform="translate(141.5,289.6) rotate(-45)" font-size="7.4" text-anchor="end" font-weight="normal" fill="#1a1a1a" stroke="#1a1a1a" stroke-width="0.05">256</text>
<text x="0" y="0" transform="translate(154,289.6) rotate(-45)" font-size="7.4" text-anchor="end" font-weight="normal" fill="#1a1a1a" stroke="#1a1a1a" stroke-width="0.05">512</text>
<text x="0" y="0" transform="translate(166.5,289.6) rotate(-45)" font-size="7.4" text-anchor="end" font-weight="normal" fill="#1a1a1a" stroke="#1a1a1a" stroke-width="0.05">1024</text>
<text x="107.9" y="314" font-size="8.3" text-anchor="middle" font-weight="bold" fill="#1a1a1a" textLength="44" lengthAdjust="spacingAndGlyphs">Enitociclib (nM)</text>
<polyline points="62.2,218.82 74.7,216.34 87.2,214.48 99.7,217.58 112.2,219.81 124.7,225.21 137.2,226.02 149.7,226.51" fill="none" stroke="#8e88c8" stroke-width="0.9" stroke-linejoin="round"/>
<line x1="62.2" y1="216.96" x2="62.2" y2="220.68" stroke="#7e7aa8" stroke-width="0.7"/>
<line x1="60.8" y1="216.96" x2="63.6" y2="216.96" stroke="#7e7aa8" stroke-width="0.7"/>
<line x1="60.8" y1="220.68" x2="63.6" y2="220.68" stroke="#7e7aa8" stroke-width="0.7"/>
<line x1="74.7" y1="214.48" x2="74.7" y2="218.2" stroke="#7e7aa8" stroke-width="0.7"/>
<line x1="73.3" y1="214.48" x2="76.1" y2="214.48" stroke="#7e7aa8" stroke-width="0.7"/>
<line x1="73.3" y1="218.2" x2="76.1" y2="218.2" stroke="#7e7aa8" stroke-width="0.7"/>
<line x1="87.2" y1="212.62" x2="87.2" y2="216.34" stroke="#7e7aa8" stroke-width="0.7"/>
<line x1="85.8" y1="212.62" x2="88.6" y2="212.62" stroke="#7e7aa8" stroke-width="0.7"/>
<line x1="85.8" y1="216.34" x2="88.6" y2="216.34" stroke="#7e7aa8" stroke-width="0.7"/>
<line x1="99.7" y1="215.72" x2="99.7" y2="219.44" stroke="#7e7aa8" stroke-width="0.7"/>
<line x1="98.3" y1="215.72" x2="101.1" y2="215.72" stroke="#7e7aa8" stroke-width="0.7"/>
<line x1="98.3" y1="219.44" x2="101.1" y2="219.44" stroke="#7e7aa8" stroke-width="0.7"/>
<line x1="112.2" y1="217.95" x2="112.2" y2="221.68" stroke="#7e7aa8" stroke-width="0.7"/>
<line x1="110.8" y1="217.95" x2="113.6" y2="217.95" stroke="#7e7aa8" stroke-width="0.7"/>
<line x1="110.8" y1="221.68" x2="113.6" y2="221.68" stroke="#7e7aa8" stroke-width="0.7"/>
<line x1="124.7" y1="219.32" x2="124.7" y2="231.11" stroke="#7e7aa8" stroke-width="0.7"/>
<line x1="123.3" y1="219.32" x2="126.1" y2="219.32" stroke="#7e7aa8" stroke-width="0.7"/>
<line x1="123.3" y1="231.11" x2="126.1" y2="231.11" stroke="#7e7aa8" stroke-width="0.7"/>
<line x1="137.2" y1="221.05" x2="137.2" y2="230.36" stroke="#7e7aa8" stroke-width="0.7"/>
<line x1="135.8" y1="221.05" x2="138.6" y2="221.05" stroke="#7e7aa8" stroke-width="0.7"/>
<line x1="135.8" y1="230.36" x2="138.6" y2="230.36" stroke="#7e7aa8" stroke-width="0.7"/>
<line x1="149.7" y1="223.41" x2="149.7" y2="230.24" stroke="#7e7aa8" stroke-width="0.7"/>
<line x1="148.3" y1="223.41" x2="151.1" y2="223.41" stroke="#7e7aa8" stroke-width="0.7"/>
<line x1="148.3" y1="230.24" x2="151.1" y2="230.24" stroke="#7e7aa8" stroke-width="0.7"/>
<circle cx="62.2" cy="218.82" r="1.9" fill="#6c66a8"/>
<circle cx="74.7" cy="216.34" r="1.9" fill="#6c66a8"/>
<circle cx="87.2" cy="214.48" r="1.9" fill="#6c66a8"/>
<circle cx="99.7" cy="217.58" r="1.9" fill="#6c66a8"/>
<circle cx="112.2" cy="219.81" r="1.9" fill="#6c66a8"/>
<circle cx="124.7" cy="225.21" r="1.9" fill="#6c66a8"/>
<circle cx="137.2" cy="226.02" r="1.9" fill="#6c66a8"/>
<circle cx="149.7" cy="226.51" r="1.9" fill="#6c66a8"/>
<polyline points="62.2,215.72 74.7,214.17 87.2,214.17 99.7,220.06 112.2,229.37 124.7,250.77 137.2,261.44 149.7,262.37" fill="none" stroke="#f5a623" stroke-width="0.9" stroke-linejoin="round"/>
<line x1="62.2" y1="213.86" x2="62.2" y2="217.58" stroke="#e08a10" stroke-width="0.7"/>
<line x1="60.8" y1="213.86" x2="63.6" y2="213.86" stroke="#e08a10" stroke-width="0.7"/>
<line x1="60.8" y1="217.58" x2="63.6" y2="217.58" stroke="#e08a10" stroke-width="0.7"/>
<line x1="74.7" y1="212.31" x2="74.7" y2="216.03" stroke="#e08a10" stroke-width="0.7"/>
<line x1="73.3" y1="212.31" x2="76.1" y2="212.31" stroke="#e08a10" stroke-width="0.7"/>
<line x1="73.3" y1="216.03" x2="76.1" y2="216.03" stroke="#e08a10" stroke-width="0.7"/>
<line x1="87.2" y1="212.31" x2="87.2" y2="216.03" stroke="#e08a10" stroke-width="0.7"/>
<line x1="85.8" y1="212.31" x2="88.6" y2="212.31" stroke="#e08a10" stroke-width="0.7"/>
<line x1="85.8" y1="216.03" x2="88.6" y2="216.03" stroke="#e08a10" stroke-width="0.7"/>
<line x1="99.7" y1="218.2" x2="99.7" y2="221.92" stroke="#e08a10" stroke-width="0.7"/>
<line x1="98.3" y1="218.2" x2="101.1" y2="218.2" stroke="#e08a10" stroke-width="0.7"/>
<line x1="98.3" y1="221.92" x2="101.1" y2="221.92" stroke="#e08a10" stroke-width="0.7"/>
<line x1="112.2" y1="225.65" x2="112.2" y2="233.09" stroke="#e08a10" stroke-width="0.7"/>
<line x1="110.8" y1="225.65" x2="113.6" y2="225.65" stroke="#e08a10" stroke-width="0.7"/>
<line x1="110.8" y1="233.09" x2="113.6" y2="233.09" stroke="#e08a10" stroke-width="0.7"/>
<line x1="124.7" y1="247.67" x2="124.7" y2="253.87" stroke="#e08a10" stroke-width="0.7"/>
<line x1="123.3" y1="247.67" x2="126.1" y2="247.67" stroke="#e08a10" stroke-width="0.7"/>
<line x1="123.3" y1="253.87" x2="126.1" y2="253.87" stroke="#e08a10" stroke-width="0.7"/>
<line x1="137.2" y1="259.58" x2="137.2" y2="263.3" stroke="#e08a10" stroke-width="0.7"/>
<line x1="135.8" y1="259.58" x2="138.6" y2="259.58" stroke="#e08a10" stroke-width="0.7"/>
<line x1="135.8" y1="263.3" x2="138.6" y2="263.3" stroke="#e08a10" stroke-width="0.7"/>
<line x1="149.7" y1="259.89" x2="149.7" y2="264.85" stroke="#e08a10" stroke-width="0.7"/>
<line x1="148.3" y1="259.89" x2="151.1" y2="259.89" stroke="#e08a10" stroke-width="0.7"/>
<line x1="148.3" y1="264.85" x2="151.1" y2="264.85" stroke="#e08a10" stroke-width="0.7"/>
<path d="M62.2,213.64 L64.28,215.72 L62.2,217.8 L60.12,215.72Z" fill="#e08a10"/>
<path d="M74.7,212.09 L76.78,214.17 L74.7,216.25 L72.62,214.17Z" fill="#e08a10"/>
<path d="M87.2,212.09 L89.28,214.17 L87.2,216.25 L85.12,214.17Z" fill="#e08a10"/>
<path d="M99.7,217.98 L101.78,220.06 L99.7,222.14 L97.62,220.06Z" fill="#e08a10"/>
<path d="M112.2,227.29 L114.28,229.37 L112.2,231.45 L110.12,229.37Z" fill="#e08a10"/>
<path d="M124.7,248.69 L126.78,250.77 L124.7,252.85 L122.62,250.77Z" fill="#e08a10"/>
<path d="M137.2,259.36 L139.28,261.44 L137.2,263.52 L135.12,261.44Z" fill="#e08a10"/>
<path d="M149.7,260.29 L151.78,262.37 L149.7,264.45 L147.62,262.37Z" fill="#e08a10"/>
<polyline points="62.2,220.37 74.7,222.11 87.2,222.54 99.7,223.78 112.2,229 124.7,244.88 137.2,262.37 149.7,265.35" fill="none" stroke="#60c070" stroke-width="0.9" stroke-linejoin="round"/>
<line x1="62.2" y1="219.13" x2="62.2" y2="221.61" stroke="#3a9c50" stroke-width="0.7"/>
<line x1="60.8" y1="219.13" x2="63.6" y2="219.13" stroke="#3a9c50" stroke-width="0.7"/>
<line x1="60.8" y1="221.61" x2="63.6" y2="221.61" stroke="#3a9c50" stroke-width="0.7"/>
<line x1="74.7" y1="220.87" x2="74.7" y2="223.35" stroke="#3a9c50" stroke-width="0.7"/>
<line x1="73.3" y1="220.87" x2="76.1" y2="220.87" stroke="#3a9c50" stroke-width="0.7"/>
<line x1="73.3" y1="223.35" x2="76.1" y2="223.35" stroke="#3a9c50" stroke-width="0.7"/>
<line x1="87.2" y1="221.3" x2="87.2" y2="223.78" stroke="#3a9c50" stroke-width="0.7"/>
<line x1="85.8" y1="221.3" x2="88.6" y2="221.3" stroke="#3a9c50" stroke-width="0.7"/>
<line x1="85.8" y1="223.78" x2="88.6" y2="223.78" stroke="#3a9c50" stroke-width="0.7"/>
<line x1="99.7" y1="222.54" x2="99.7" y2="225.03" stroke="#3a9c50" stroke-width="0.7"/>
<line x1="98.3" y1="222.54" x2="101.1" y2="222.54" stroke="#3a9c50" stroke-width="0.7"/>
<line x1="98.3" y1="225.03" x2="101.1" y2="225.03" stroke="#3a9c50" stroke-width="0.7"/>
<line x1="112.2" y1="227.13" x2="112.2" y2="230.86" stroke="#3a9c50" stroke-width="0.7"/>
<line x1="110.8" y1="227.13" x2="113.6" y2="227.13" stroke="#3a9c50" stroke-width="0.7"/>
<line x1="110.8" y1="230.86" x2="113.6" y2="230.86" stroke="#3a9c50" stroke-width="0.7"/>
<line x1="124.7" y1="242.4" x2="124.7" y2="247.36" stroke="#3a9c50" stroke-width="0.7"/>
<line x1="123.3" y1="242.4" x2="126.1" y2="242.4" stroke="#3a9c50" stroke-width="0.7"/>
<line x1="123.3" y1="247.36" x2="126.1" y2="247.36" stroke="#3a9c50" stroke-width="0.7"/>
<line x1="137.2" y1="260.51" x2="137.2" y2="264.23" stroke="#3a9c50" stroke-width="0.7"/>
<line x1="135.8" y1="260.51" x2="138.6" y2="260.51" stroke="#3a9c50" stroke-width="0.7"/>
<line x1="135.8" y1="264.23" x2="138.6" y2="264.23" stroke="#3a9c50" stroke-width="0.7"/>
<line x1="149.7" y1="263.49" x2="149.7" y2="267.21" stroke="#3a9c50" stroke-width="0.7"/>
<line x1="148.3" y1="263.49" x2="151.1" y2="263.49" stroke="#3a9c50" stroke-width="0.7"/>
<line x1="148.3" y1="267.21" x2="151.1" y2="267.21" stroke="#3a9c50" stroke-width="0.7"/>
<path d="M62.2,218.35 L64.04,221.75 L60.36,221.75Z" fill="#3a9c50"/>
<path d="M74.7,220.09 L76.54,223.49 L72.86,223.49Z" fill="#3a9c50"/>
<path d="M87.2,220.52 L89.04,223.92 L85.36,223.92Z" fill="#3a9c50"/>
<path d="M99.7,221.76 L101.54,225.16 L97.86,225.16Z" fill="#3a9c50"/>
<path d="M112.2,226.97 L114.04,230.38 L110.36,230.38Z" fill="#3a9c50"/>
<path d="M124.7,242.85 L126.54,246.26 L122.86,246.26Z" fill="#3a9c50"/>
<path d="M137.2,260.35 L139.04,263.75 L135.36,263.75Z" fill="#3a9c50"/>
<path d="M149.7,263.33 L151.54,266.73 L147.86,266.73Z" fill="#3a9c50"/>
<polyline points="62.2,215.72 74.7,215.72 87.2,216.65 99.7,216.65 112.2,222.67 124.7,239.11 137.2,262.25 149.7,266.28" fill="none" stroke="#4a3868" stroke-width="0.9" stroke-linejoin="round"/>
<line x1="62.2" y1="211.38" x2="62.2" y2="220.06" stroke="#2e2045" stroke-width="0.7"/>
<line x1="60.8" y1="211.38" x2="63.6" y2="211.38" stroke="#2e2045" stroke-width="0.7"/>
<line x1="60.8" y1="220.06" x2="63.6" y2="220.06" stroke="#2e2045" stroke-width="0.7"/>
<line x1="74.7" y1="213.86" x2="74.7" y2="217.58" stroke="#2e2045" stroke-width="0.7"/>
<line x1="73.3" y1="213.86" x2="76.1" y2="213.86" stroke="#2e2045" stroke-width="0.7"/>
<line x1="73.3" y1="217.58" x2="76.1" y2="217.58" stroke="#2e2045" stroke-width="0.7"/>
<line x1="87.2" y1="214.79" x2="87.2" y2="218.51" stroke="#2e2045" stroke-width="0.7"/>
<line x1="85.8" y1="214.79" x2="88.6" y2="214.79" stroke="#2e2045" stroke-width="0.7"/>
<line x1="85.8" y1="218.51" x2="88.6" y2="218.51" stroke="#2e2045" stroke-width="0.7"/>
<line x1="99.7" y1="214.17" x2="99.7" y2="219.13" stroke="#2e2045" stroke-width="0.7"/>
<line x1="98.3" y1="214.17" x2="101.1" y2="214.17" stroke="#2e2045" stroke-width="0.7"/>
<line x1="98.3" y1="219.13" x2="101.1" y2="219.13" stroke="#2e2045" stroke-width="0.7"/>
<line x1="112.2" y1="220.81" x2="112.2" y2="224.53" stroke="#2e2045" stroke-width="0.7"/>
<line x1="110.8" y1="220.81" x2="113.6" y2="220.81" stroke="#2e2045" stroke-width="0.7"/>
<line x1="110.8" y1="224.53" x2="113.6" y2="224.53" stroke="#2e2045" stroke-width="0.7"/>
<line x1="124.7" y1="236.63" x2="124.7" y2="241.59" stroke="#2e2045" stroke-width="0.7"/>
<line x1="123.3" y1="236.63" x2="126.1" y2="236.63" stroke="#2e2045" stroke-width="0.7"/>
<line x1="123.3" y1="241.59" x2="126.1" y2="241.59" stroke="#2e2045" stroke-width="0.7"/>
<line x1="137.2" y1="260.39" x2="137.2" y2="264.11" stroke="#2e2045" stroke-width="0.7"/>
<line x1="135.8" y1="260.39" x2="138.6" y2="260.39" stroke="#2e2045" stroke-width="0.7"/>
<line x1="135.8" y1="264.11" x2="138.6" y2="264.11" stroke="#2e2045" stroke-width="0.7"/>
<line x1="149.7" y1="264.42" x2="149.7" y2="268.14" stroke="#2e2045" stroke-width="0.7"/>
<line x1="148.3" y1="264.42" x2="151.1" y2="264.42" stroke="#2e2045" stroke-width="0.7"/>
<line x1="148.3" y1="268.14" x2="151.1" y2="268.14" stroke="#2e2045" stroke-width="0.7"/>
<path d="M62.2,217.74 L64.04,214.34 L60.36,214.34Z" fill="#2e2045"/>
<path d="M74.7,217.74 L76.54,214.34 L72.86,214.34Z" fill="#2e2045"/>
<path d="M87.2,218.67 L89.04,215.27 L85.36,215.27Z" fill="#2e2045"/>
<path d="M99.7,218.67 L101.54,215.27 L97.86,215.27Z" fill="#2e2045"/>
<path d="M112.2,224.69 L114.04,221.29 L110.36,221.29Z" fill="#2e2045"/>
<path d="M124.7,241.13 L126.54,237.73 L122.86,237.73Z" fill="#2e2045"/>
<path d="M137.2,264.27 L139.04,260.87 L135.36,260.87Z" fill="#2e2045"/>
<path d="M149.7,268.31 L151.54,264.9 L147.86,264.9Z" fill="#2e2045"/>
<polyline points="62.2,223.16 74.7,223.78 87.2,224.78 99.7,232.1 112.2,243.02 124.7,257.16 137.2,267.58 149.7,269.2" fill="none" stroke="#c8203f" stroke-width="0.9" stroke-linejoin="round"/>
<line x1="62.2" y1="221.3" x2="62.2" y2="225.03" stroke="#9c1230" stroke-width="0.7"/>
<line x1="60.8" y1="221.3" x2="63.6" y2="221.3" stroke="#9c1230" stroke-width="0.7"/>
<line x1="60.8" y1="225.03" x2="63.6" y2="225.03" stroke="#9c1230" stroke-width="0.7"/>
<line x1="74.7" y1="221.92" x2="74.7" y2="225.65" stroke="#9c1230" stroke-width="0.7"/>
<line x1="73.3" y1="221.92" x2="76.1" y2="221.92" stroke="#9c1230" stroke-width="0.7"/>
<line x1="73.3" y1="225.65" x2="76.1" y2="225.65" stroke="#9c1230" stroke-width="0.7"/>
<line x1="87.2" y1="222.92" x2="87.2" y2="226.64" stroke="#9c1230" stroke-width="0.7"/>
<line x1="85.8" y1="222.92" x2="88.6" y2="222.92" stroke="#9c1230" stroke-width="0.7"/>
<line x1="85.8" y1="226.64" x2="88.6" y2="226.64" stroke="#9c1230" stroke-width="0.7"/>
<line x1="99.7" y1="229" x2="99.7" y2="235.2" stroke="#9c1230" stroke-width="0.7"/>
<line x1="98.3" y1="229" x2="101.1" y2="229" stroke="#9c1230" stroke-width="0.7"/>
<line x1="98.3" y1="235.2" x2="101.1" y2="235.2" stroke="#9c1230" stroke-width="0.7"/>
<line x1="112.2" y1="233.71" x2="112.2" y2="252.32" stroke="#9c1230" stroke-width="0.7"/>
<line x1="110.8" y1="233.71" x2="113.6" y2="233.71" stroke="#9c1230" stroke-width="0.7"/>
<line x1="110.8" y1="252.32" x2="113.6" y2="252.32" stroke="#9c1230" stroke-width="0.7"/>
<line x1="124.7" y1="254.06" x2="124.7" y2="260.26" stroke="#9c1230" stroke-width="0.7"/>
<line x1="123.3" y1="254.06" x2="126.1" y2="254.06" stroke="#9c1230" stroke-width="0.7"/>
<line x1="123.3" y1="260.26" x2="126.1" y2="260.26" stroke="#9c1230" stroke-width="0.7"/>
<line x1="137.2" y1="265.72" x2="137.2" y2="269.45" stroke="#9c1230" stroke-width="0.7"/>
<line x1="135.8" y1="265.72" x2="138.6" y2="265.72" stroke="#9c1230" stroke-width="0.7"/>
<line x1="135.8" y1="269.45" x2="138.6" y2="269.45" stroke="#9c1230" stroke-width="0.7"/>
<line x1="149.7" y1="267.34" x2="149.7" y2="271.06" stroke="#9c1230" stroke-width="0.7"/>
<line x1="148.3" y1="267.34" x2="151.1" y2="267.34" stroke="#9c1230" stroke-width="0.7"/>
<line x1="148.3" y1="271.06" x2="151.1" y2="271.06" stroke="#9c1230" stroke-width="0.7"/>
<rect x="60.6" y="221.56" width="3.2" height="3.2" fill="#9c1230"/>
<rect x="73.1" y="222.18" width="3.2" height="3.2" fill="#9c1230"/>
<rect x="85.6" y="223.18" width="3.2" height="3.2" fill="#9c1230"/>
<rect x="98.1" y="230.5" width="3.2" height="3.2" fill="#9c1230"/>
<rect x="110.6" y="241.42" width="3.2" height="3.2" fill="#9c1230"/>
<rect x="123.1" y="255.56" width="3.2" height="3.2" fill="#9c1230"/>
<rect x="135.6" y="265.98" width="3.2" height="3.2" fill="#9c1230"/>
<rect x="148.1" y="267.6" width="3.2" height="3.2" fill="#9c1230"/>
<polyline points="62.2,225.52 74.7,229.68 87.2,231.73 99.7,246.37 112.2,267.21 124.7,273.11 137.2,273.11 149.7,273.6" fill="none" stroke="#245e88" stroke-width="0.9" stroke-linejoin="round"/>
<line x1="62.2" y1="224.28" x2="62.2" y2="226.76" stroke="#1a4264" stroke-width="0.7"/>
<line x1="60.8" y1="224.28" x2="63.6" y2="224.28" stroke="#1a4264" stroke-width="0.7"/>
<line x1="60.8" y1="226.76" x2="63.6" y2="226.76" stroke="#1a4264" stroke-width="0.7"/>
<line x1="74.7" y1="227.82" x2="74.7" y2="231.54" stroke="#1a4264" stroke-width="0.7"/>
<line x1="73.3" y1="227.82" x2="76.1" y2="227.82" stroke="#1a4264" stroke-width="0.7"/>
<line x1="73.3" y1="231.54" x2="76.1" y2="231.54" stroke="#1a4264" stroke-width="0.7"/>
<line x1="87.2" y1="230.48" x2="87.2" y2="232.97" stroke="#1a4264" stroke-width="0.7"/>
<line x1="85.8" y1="230.48" x2="88.6" y2="230.48" stroke="#1a4264" stroke-width="0.7"/>
<line x1="85.8" y1="232.97" x2="88.6" y2="232.97" stroke="#1a4264" stroke-width="0.7"/>
<line x1="99.7" y1="244.51" x2="99.7" y2="248.23" stroke="#1a4264" stroke-width="0.7"/>
<line x1="98.3" y1="244.51" x2="101.1" y2="244.51" stroke="#1a4264" stroke-width="0.7"/>
<line x1="98.3" y1="248.23" x2="101.1" y2="248.23" stroke="#1a4264" stroke-width="0.7"/>
<line x1="112.2" y1="264.73" x2="112.2" y2="269.69" stroke="#1a4264" stroke-width="0.7"/>
<line x1="110.8" y1="264.73" x2="113.6" y2="264.73" stroke="#1a4264" stroke-width="0.7"/>
<line x1="110.8" y1="269.69" x2="113.6" y2="269.69" stroke="#1a4264" stroke-width="0.7"/>
<line x1="124.7" y1="272.49" x2="124.7" y2="273.73" stroke="#1a4264" stroke-width="0.7"/>
<line x1="123.3" y1="272.49" x2="126.1" y2="272.49" stroke="#1a4264" stroke-width="0.7"/>
<line x1="123.3" y1="273.73" x2="126.1" y2="273.73" stroke="#1a4264" stroke-width="0.7"/>
<line x1="137.2" y1="272.49" x2="137.2" y2="273.73" stroke="#1a4264" stroke-width="0.7"/>
<line x1="135.8" y1="272.49" x2="138.6" y2="272.49" stroke="#1a4264" stroke-width="0.7"/>
<line x1="135.8" y1="273.73" x2="138.6" y2="273.73" stroke="#1a4264" stroke-width="0.7"/>
<line x1="149.7" y1="272.98" x2="149.7" y2="274.22" stroke="#1a4264" stroke-width="0.7"/>
<line x1="148.3" y1="272.98" x2="151.1" y2="272.98" stroke="#1a4264" stroke-width="0.7"/>
<line x1="148.3" y1="274.22" x2="151.1" y2="274.22" stroke="#1a4264" stroke-width="0.7"/>
<circle cx="62.2" cy="225.52" r="1.6" fill="#1a4264"/>
<circle cx="74.7" cy="229.68" r="1.6" fill="#1a4264"/>
<circle cx="87.2" cy="231.73" r="1.6" fill="#1a4264"/>
<circle cx="99.7" cy="246.37" r="1.6" fill="#1a4264"/>
<circle cx="112.2" cy="267.21" r="1.6" fill="#1a4264"/>
<circle cx="124.7" cy="273.11" r="1.6" fill="#1a4264"/>
<circle cx="137.2" cy="273.11" r="1.6" fill="#1a4264"/>
<circle cx="149.7" cy="273.6" r="1.6" fill="#1a4264"/>
<line x1="37.8" y1="323.5" x2="46.2" y2="323.5" stroke="#245e88" stroke-width="0.9"/>
<circle cx="41.8" cy="323.5" r="1.3" fill="#1a4264"/>
<text x="48.8" y="326" font-size="7.0" text-anchor="start" font-weight="normal" fill="#1a1a1a" textLength="24" lengthAdjust="spacingAndGlyphs">MV4-11</text>
<line x1="78.7" y1="323.5" x2="87.3" y2="323.5" stroke="#c8203f" stroke-width="0.9"/>
<rect x="81.8" y="322.2" width="2.6" height="2.6" fill="#9c1230"/>
<text x="90.2" y="326" font-size="7.0" text-anchor="start" font-weight="normal" fill="#1a1a1a" textLength="26.9" lengthAdjust="spacingAndGlyphs">KOPN-8</text>
<line x1="125.8" y1="323.5" x2="134.4" y2="323.5" stroke="#60c070" stroke-width="0.9"/>
<path d="M130.2,321.86 L131.69,324.62 L128.7,324.62Z" fill="#3a9c50"/>
<text x="137.3" y="326" font-size="7.0" text-anchor="start" font-weight="normal" fill="#1a1a1a" textLength="19.2" lengthAdjust="spacingAndGlyphs">THP-1</text>
<line x1="37.8" y1="333.7" x2="46.2" y2="333.7" stroke="#4a3868" stroke-width="0.9"/>
<path d="M41.8,335.34 L43.29,332.58 L40.3,332.58Z" fill="#2e2045"/>
<text x="48.8" y="336.2" font-size="7.0" text-anchor="start" font-weight="normal" fill="#1a1a1a" textLength="15.5" lengthAdjust="spacingAndGlyphs">INL2</text>
<line x1="78.7" y1="333.7" x2="87.3" y2="333.7" stroke="#f5a623" stroke-width="0.9"/>
<path d="M83.1,332.01 L84.79,333.7 L83.1,335.39 L81.41,333.7Z" fill="#e08a10"/>
<text x="90.2" y="336.2" font-size="7.0" text-anchor="start" font-weight="normal" fill="#1a1a1a" textLength="30.2" lengthAdjust="spacingAndGlyphs">SUP-B15</text>
<line x1="125.8" y1="333.7" x2="134.4" y2="333.7" stroke="#8e88c8" stroke-width="0.9"/>
<circle cx="130.2" cy="333.7" r="1.3" fill="#6c66a8"/>
<text x="137.3" y="336.2" font-size="7.0" text-anchor="start" font-weight="normal" fill="#1a1a1a" textLength="27.9" lengthAdjust="spacingAndGlyphs">AML-193</text>
<text x="288.1" y="195.4" font-size="8.8" text-anchor="middle" font-weight="normal" fill="#1a1a1a" stroke="#1a1a1a" stroke-width="0.12">Primary Samples</text>
<text x="0" y="0" transform="translate(194.8,239.6) rotate(-90)" font-size="8.2" text-anchor="middle" font-weight="normal" fill="#1a1a1a" stroke="#1a1a1a" stroke-width="0.1" textLength="42.2" lengthAdjust="spacingAndGlyphs">% Cell viability</text>
<text x="0" y="0" transform="translate(204.7,239.6) rotate(-90)" font-size="8.2" text-anchor="middle" font-weight="normal" fill="#1a1a1a" stroke="#1a1a1a" stroke-width="0.1" textLength="61.4" lengthAdjust="spacingAndGlyphs">(normalized to DMSO)</text>
<line x1="229.9" y1="204" x2="229.9" y2="279.6" stroke="#1a1a1a" stroke-width="1.2"/>
<line x1="227.4" y1="279" x2="229.9" y2="279" stroke="#1a1a1a" stroke-width="1.0"/>
<text x="223.9" y="281.3" font-size="7.5" text-anchor="end" font-weight="normal" fill="#1a1a1a" stroke="#1a1a1a" stroke-width="0.1">0</text>
<line x1="227.4" y1="266.59" x2="229.9" y2="266.59" stroke="#1a1a1a" stroke-width="1.0"/>
<text x="223.9" y="268.89" font-size="7.5" text-anchor="end" font-weight="normal" fill="#1a1a1a" stroke="#1a1a1a" stroke-width="0.1">20</text>
<line x1="227.4" y1="254.18" x2="229.9" y2="254.18" stroke="#1a1a1a" stroke-width="1.0"/>
<text x="223.9" y="256.48" font-size="7.5" text-anchor="end" font-weight="normal" fill="#1a1a1a" stroke="#1a1a1a" stroke-width="0.1">40</text>
<line x1="227.4" y1="241.78" x2="229.9" y2="241.78" stroke="#1a1a1a" stroke-width="1.0"/>
<text x="223.9" y="244.08" font-size="7.5" text-anchor="end" font-weight="normal" fill="#1a1a1a" stroke="#1a1a1a" stroke-width="0.1">60</text>
<line x1="227.4" y1="229.37" x2="229.9" y2="229.37" stroke="#1a1a1a" stroke-width="1.0"/>
<text x="223.9" y="231.67" font-size="7.5" text-anchor="end" font-weight="normal" fill="#1a1a1a" stroke="#1a1a1a" stroke-width="0.1">80</text>
<line x1="227.4" y1="216.96" x2="229.9" y2="216.96" stroke="#1a1a1a" stroke-width="1.0"/>
<text x="223.9" y="219.26" font-size="7.5" text-anchor="end" font-weight="normal" fill="#1a1a1a" stroke="#1a1a1a" stroke-width="0.1">100</text>
<line x1="227.4" y1="204.55" x2="229.9" y2="204.55" stroke="#1a1a1a" stroke-width="1.0"/>
<text x="223.9" y="206.85" font-size="7.5" text-anchor="end" font-weight="normal" fill="#1a1a1a" stroke="#1a1a1a" stroke-width="0.1">120</text>
<line x1="229.3" y1="279" x2="346.4" y2="279" stroke="#1a1a1a" stroke-width="1.2"/>
<line x1="229.9" y1="279" x2="229.9" y2="281.5" stroke="#1a1a1a" stroke-width="1.0"/>
<line x1="242.4" y1="279" x2="242.4" y2="281.5" stroke="#1a1a1a" stroke-width="1.0"/>
<line x1="254.9" y1="279" x2="254.9" y2="281.5" stroke="#1a1a1a" stroke-width="1.0"/>
<line x1="267.4" y1="279" x2="267.4" y2="281.5" stroke="#1a1a1a" stroke-width="1.0"/>
<line x1="279.9" y1="279" x2="279.9" y2="281.5" stroke="#1a1a1a" stroke-width="1.0"/>
<line x1="292.4" y1="279" x2="292.4" y2="281.5" stroke="#1a1a1a" stroke-width="1.0"/>
<line x1="304.9" y1="279" x2="304.9" y2="281.5" stroke="#1a1a1a" stroke-width="1.0"/>
<line x1="317.4" y1="279" x2="317.4" y2="281.5" stroke="#1a1a1a" stroke-width="1.0"/>
<line x1="329.9" y1="279" x2="329.9" y2="281.5" stroke="#1a1a1a" stroke-width="1.0"/>
<line x1="342.4" y1="279" x2="342.4" y2="281.5" stroke="#1a1a1a" stroke-width="1.0"/>
<text x="0" y="0" transform="translate(234.2,289.6) rotate(-45)" font-size="7.4" text-anchor="end" font-weight="normal" fill="#1a1a1a" stroke="#1a1a1a" stroke-width="0.05">2</text>
<text x="0" y="0" transform="translate(246.7,289.6) rotate(-45)" font-size="7.4" text-anchor="end" font-weight="normal" fill="#1a1a1a" stroke="#1a1a1a" stroke-width="0.05">4</text>
<text x="0" y="0" transform="translate(259.2,289.6) rotate(-45)" font-size="7.4" text-anchor="end" font-weight="normal" fill="#1a1a1a" stroke="#1a1a1a" stroke-width="0.05">8</text>
<text x="0" y="0" transform="translate(271.7,289.6) rotate(-45)" font-size="7.4" text-anchor="end" font-weight="normal" fill="#1a1a1a" stroke="#1a1a1a" stroke-width="0.05">16</text>
<text x="0" y="0" transform="translate(284.2,289.6) rotate(-45)" font-size="7.4" text-anchor="end" font-weight="normal" fill="#1a1a1a" stroke="#1a1a1a" stroke-width="0.05">32</text>
<text x="0" y="0" transform="translate(296.7,289.6) rotate(-45)" font-size="7.4" text-anchor="end" font-weight="normal" fill="#1a1a1a" stroke="#1a1a1a" stroke-width="0.05">64</text>
<text x="0" y="0" transform="translate(309.2,289.6) rotate(-45)" font-size="7.4" text-anchor="end" font-weight="normal" fill="#1a1a1a" stroke="#1a1a1a" stroke-width="0.05">128</text>
<text x="0" y="0" transform="translate(321.7,289.6) rotate(-45)" font-size="7.4" text-anchor="end" font-weight="normal" fill="#1a1a1a" stroke="#1a1a1a" stroke-width="0.05">256</text>
<text x="0" y="0" transform="translate(334.2,289.6) rotate(-45)" font-size="7.4" text-anchor="end" font-weight="normal" fill="#1a1a1a" stroke="#1a1a1a" stroke-width="0.05">512</text>
<text x="0" y="0" transform="translate(346.7,289.6) rotate(-45)" font-size="7.4" text-anchor="end" font-weight="normal" fill="#1a1a1a" stroke="#1a1a1a" stroke-width="0.05">1024</text>
<text x="288.1" y="314" font-size="8.3" text-anchor="middle" font-weight="bold" fill="#1a1a1a" textLength="44" lengthAdjust="spacingAndGlyphs">Enitociclib (nM)</text>
<polyline points="242.4,220.06 254.9,218.2 267.4,219.69 279.9,220.87 292.4,222.54 304.9,223.16 317.4,224.09 329.9,225.65" fill="none" stroke="#66c474" stroke-width="0.8" stroke-linejoin="round"/>
<line x1="242.4" y1="218.82" x2="242.4" y2="221.3" stroke="#3a9c50" stroke-width="0.7"/>
<line x1="241" y1="218.82" x2="243.8" y2="218.82" stroke="#3a9c50" stroke-width="0.7"/>
<line x1="241" y1="221.3" x2="243.8" y2="221.3" stroke="#3a9c50" stroke-width="0.7"/>
<line x1="254.9" y1="216.34" x2="254.9" y2="220.06" stroke="#3a9c50" stroke-width="0.7"/>
<line x1="253.5" y1="216.34" x2="256.3" y2="216.34" stroke="#3a9c50" stroke-width="0.7"/>
<line x1="253.5" y1="220.06" x2="256.3" y2="220.06" stroke="#3a9c50" stroke-width="0.7"/>
<line x1="267.4" y1="218.45" x2="267.4" y2="220.93" stroke="#3a9c50" stroke-width="0.7"/>
<line x1="266" y1="218.45" x2="268.8" y2="218.45" stroke="#3a9c50" stroke-width="0.7"/>
<line x1="266" y1="220.93" x2="268.8" y2="220.93" stroke="#3a9c50" stroke-width="0.7"/>
<line x1="279.9" y1="219.63" x2="279.9" y2="222.11" stroke="#3a9c50" stroke-width="0.7"/>
<line x1="278.5" y1="219.63" x2="281.3" y2="219.63" stroke="#3a9c50" stroke-width="0.7"/>
<line x1="278.5" y1="222.11" x2="281.3" y2="222.11" stroke="#3a9c50" stroke-width="0.7"/>
<line x1="292.4" y1="221.92" x2="292.4" y2="223.16" stroke="#3a9c50" stroke-width="0.7"/>
<line x1="291" y1="221.92" x2="293.8" y2="221.92" stroke="#3a9c50" stroke-width="0.7"/>
<line x1="291" y1="223.16" x2="293.8" y2="223.16" stroke="#3a9c50" stroke-width="0.7"/>
<line x1="304.9" y1="222.54" x2="304.9" y2="223.78" stroke="#3a9c50" stroke-width="0.7"/>
<line x1="303.5" y1="222.54" x2="306.3" y2="222.54" stroke="#3a9c50" stroke-width="0.7"/>
<line x1="303.5" y1="223.78" x2="306.3" y2="223.78" stroke="#3a9c50" stroke-width="0.7"/>
<line x1="317.4" y1="223.47" x2="317.4" y2="224.72" stroke="#3a9c50" stroke-width="0.7"/>
<line x1="316" y1="223.47" x2="318.8" y2="223.47" stroke="#3a9c50" stroke-width="0.7"/>
<line x1="316" y1="224.72" x2="318.8" y2="224.72" stroke="#3a9c50" stroke-width="0.7"/>
<line x1="329.9" y1="225.03" x2="329.9" y2="226.27" stroke="#3a9c50" stroke-width="0.7"/>
<line x1="328.5" y1="225.03" x2="331.3" y2="225.03" stroke="#3a9c50" stroke-width="0.7"/>
<line x1="328.5" y1="226.27" x2="331.3" y2="226.27" stroke="#3a9c50" stroke-width="0.7"/>
<path d="M242.4,218.04 L244.24,221.44 L240.56,221.44Z" fill="#3a9c50"/>
<path d="M254.9,216.18 L256.74,219.58 L253.06,219.58Z" fill="#3a9c50"/>
<path d="M267.4,217.67 L269.24,221.07 L265.56,221.07Z" fill="#3a9c50"/>
<path d="M279.9,218.84 L281.74,222.25 L278.06,222.25Z" fill="#3a9c50"/>
<path d="M292.4,220.52 L294.24,223.92 L290.56,223.92Z" fill="#3a9c50"/>
<path d="M304.9,221.14 L306.74,224.54 L303.06,224.54Z" fill="#3a9c50"/>
<path d="M317.4,222.07 L319.24,225.47 L315.56,225.47Z" fill="#3a9c50"/>
<path d="M329.9,223.62 L331.74,227.03 L328.06,227.03Z" fill="#3a9c50"/>
<polyline points="242.4,213.24 254.9,212 267.4,214.48 279.9,216.46 292.4,221.92 304.9,239.91 317.4,244.01 329.9,245.62" fill="none" stroke="#6a3a78" stroke-width="0.8" stroke-linejoin="round"/>
<line x1="242.4" y1="210.76" x2="242.4" y2="215.72" stroke="#5a5a7a" stroke-width="0.7"/>
<line x1="241" y1="210.76" x2="243.8" y2="210.76" stroke="#5a5a7a" stroke-width="0.7"/>
<line x1="241" y1="215.72" x2="243.8" y2="215.72" stroke="#5a5a7a" stroke-width="0.7"/>
<line x1="254.9" y1="207.03" x2="254.9" y2="216.96" stroke="#5a5a7a" stroke-width="0.7"/>
<line x1="253.5" y1="207.03" x2="256.3" y2="207.03" stroke="#5a5a7a" stroke-width="0.7"/>
<line x1="253.5" y1="216.96" x2="256.3" y2="216.96" stroke="#5a5a7a" stroke-width="0.7"/>
<line x1="267.4" y1="210.14" x2="267.4" y2="218.82" stroke="#5a5a7a" stroke-width="0.7"/>
<line x1="266" y1="210.14" x2="268.8" y2="210.14" stroke="#5a5a7a" stroke-width="0.7"/>
<line x1="266" y1="218.82" x2="268.8" y2="218.82" stroke="#5a5a7a" stroke-width="0.7"/>
<line x1="279.9" y1="212.74" x2="279.9" y2="220.19" stroke="#5a5a7a" stroke-width="0.7"/>
<line x1="278.5" y1="212.74" x2="281.3" y2="212.74" stroke="#5a5a7a" stroke-width="0.7"/>
<line x1="278.5" y1="220.19" x2="281.3" y2="220.19" stroke="#5a5a7a" stroke-width="0.7"/>
<line x1="292.4" y1="220.06" x2="292.4" y2="223.78" stroke="#5a5a7a" stroke-width="0.7"/>
<line x1="291" y1="220.06" x2="293.8" y2="220.06" stroke="#5a5a7a" stroke-width="0.7"/>
<line x1="291" y1="223.78" x2="293.8" y2="223.78" stroke="#5a5a7a" stroke-width="0.7"/>
<line x1="304.9" y1="238.05" x2="304.9" y2="241.78" stroke="#5a5a7a" stroke-width="0.7"/>
<line x1="303.5" y1="238.05" x2="306.3" y2="238.05" stroke="#5a5a7a" stroke-width="0.7"/>
<line x1="303.5" y1="241.78" x2="306.3" y2="241.78" stroke="#5a5a7a" stroke-width="0.7"/>
<line x1="317.4" y1="242.15" x2="317.4" y2="245.87" stroke="#5a5a7a" stroke-width="0.7"/>
<line x1="316" y1="242.15" x2="318.8" y2="242.15" stroke="#5a5a7a" stroke-width="0.7"/>
<line x1="316" y1="245.87" x2="318.8" y2="245.87" stroke="#5a5a7a" stroke-width="0.7"/>
<line x1="329.9" y1="244.38" x2="329.9" y2="246.86" stroke="#5a5a7a" stroke-width="0.7"/>
<line x1="328.5" y1="244.38" x2="331.3" y2="244.38" stroke="#5a5a7a" stroke-width="0.7"/>
<line x1="328.5" y1="246.86" x2="331.3" y2="246.86" stroke="#5a5a7a" stroke-width="0.7"/>
<path d="M242.4,215.26 L244.24,211.86 L240.56,211.86Z" fill="#2e1a40"/>
<path d="M254.9,214.02 L256.74,210.62 L253.06,210.62Z" fill="#2e1a40"/>
<path d="M267.4,216.5 L269.24,213.1 L265.56,213.1Z" fill="#2e1a40"/>
<path d="M279.9,218.49 L281.74,215.08 L278.06,215.08Z" fill="#2e1a40"/>
<path d="M292.4,223.95 L294.24,220.54 L290.56,220.54Z" fill="#2e1a40"/>
<path d="M304.9,241.94 L306.74,238.53 L303.06,238.53Z" fill="#2e1a40"/>
<path d="M317.4,246.03 L319.24,242.63 L315.56,242.63Z" fill="#2e1a40"/>
<path d="M329.9,247.65 L331.74,244.24 L328.06,244.24Z" fill="#2e1a40"/>
<polyline points="242.4,212.31 254.9,211.07 267.4,214.17 279.9,216.96 292.4,222.54 304.9,232.04 317.4,235.26 329.9,237.12" fill="none" stroke="#d6385a" stroke-width="0.8" stroke-linejoin="round"/>
<line x1="242.4" y1="210.45" x2="242.4" y2="214.17" stroke="#b81838" stroke-width="0.7"/>
<line x1="241" y1="210.45" x2="243.8" y2="210.45" stroke="#b81838" stroke-width="0.7"/>
<line x1="241" y1="214.17" x2="243.8" y2="214.17" stroke="#b81838" stroke-width="0.7"/>
<line x1="254.9" y1="208.58" x2="254.9" y2="213.55" stroke="#b81838" stroke-width="0.7"/>
<line x1="253.5" y1="208.58" x2="256.3" y2="208.58" stroke="#b81838" stroke-width="0.7"/>
<line x1="253.5" y1="213.55" x2="256.3" y2="213.55" stroke="#b81838" stroke-width="0.7"/>
<line x1="267.4" y1="211.69" x2="267.4" y2="216.65" stroke="#b81838" stroke-width="0.7"/>
<line x1="266" y1="211.69" x2="268.8" y2="211.69" stroke="#b81838" stroke-width="0.7"/>
<line x1="266" y1="216.65" x2="268.8" y2="216.65" stroke="#b81838" stroke-width="0.7"/>
<line x1="279.9" y1="214.48" x2="279.9" y2="219.44" stroke="#b81838" stroke-width="0.7"/>
<line x1="278.5" y1="214.48" x2="281.3" y2="214.48" stroke="#b81838" stroke-width="0.7"/>
<line x1="278.5" y1="219.44" x2="281.3" y2="219.44" stroke="#b81838" stroke-width="0.7"/>
<line x1="292.4" y1="221.3" x2="292.4" y2="223.78" stroke="#b81838" stroke-width="0.7"/>
<line x1="291" y1="221.3" x2="293.8" y2="221.3" stroke="#b81838" stroke-width="0.7"/>
<line x1="291" y1="223.78" x2="293.8" y2="223.78" stroke="#b81838" stroke-width="0.7"/>
<line x1="304.9" y1="230.79" x2="304.9" y2="233.28" stroke="#b81838" stroke-width="0.7"/>
<line x1="303.5" y1="230.79" x2="306.3" y2="230.79" stroke="#b81838" stroke-width="0.7"/>
<line x1="303.5" y1="233.28" x2="306.3" y2="233.28" stroke="#b81838" stroke-width="0.7"/>
<line x1="317.4" y1="234.02" x2="317.4" y2="236.5" stroke="#b81838" stroke-width="0.7"/>
<line x1="316" y1="234.02" x2="318.8" y2="234.02" stroke="#b81838" stroke-width="0.7"/>
<line x1="316" y1="236.5" x2="318.8" y2="236.5" stroke="#b81838" stroke-width="0.7"/>
<line x1="329.9" y1="235.88" x2="329.9" y2="238.36" stroke="#b81838" stroke-width="0.7"/>
<line x1="328.5" y1="235.88" x2="331.3" y2="235.88" stroke="#b81838" stroke-width="0.7"/>
<line x1="328.5" y1="238.36" x2="331.3" y2="238.36" stroke="#b81838" stroke-width="0.7"/>
<rect x="240.8" y="210.71" width="3.2" height="3.2" fill="#b81838"/>
<rect x="253.3" y="209.47" width="3.2" height="3.2" fill="#b81838"/>
<rect x="265.8" y="212.57" width="3.2" height="3.2" fill="#b81838"/>
<rect x="278.3" y="215.36" width="3.2" height="3.2" fill="#b81838"/>
<rect x="290.8" y="220.94" width="3.2" height="3.2" fill="#b81838"/>
<rect x="303.3" y="230.44" width="3.2" height="3.2" fill="#b81838"/>
<rect x="315.8" y="233.66" width="3.2" height="3.2" fill="#b81838"/>
<rect x="328.3" y="235.52" width="3.2" height="3.2" fill="#b81838"/>
<polyline points="242.4,214.48 254.9,216.46 267.4,220.06 279.9,219.44 292.4,226.89 304.9,235.88 317.4,246.37 329.9,253.75" fill="none" stroke="#3a5a90" stroke-width="0.8" stroke-linejoin="round"/>
<line x1="242.4" y1="212.62" x2="242.4" y2="216.34" stroke="#50608a" stroke-width="0.7"/>
<line x1="241" y1="212.62" x2="243.8" y2="212.62" stroke="#50608a" stroke-width="0.7"/>
<line x1="241" y1="216.34" x2="243.8" y2="216.34" stroke="#50608a" stroke-width="0.7"/>
<line x1="254.9" y1="212.74" x2="254.9" y2="220.19" stroke="#50608a" stroke-width="0.7"/>
<line x1="253.5" y1="212.74" x2="256.3" y2="212.74" stroke="#50608a" stroke-width="0.7"/>
<line x1="253.5" y1="220.19" x2="256.3" y2="220.19" stroke="#50608a" stroke-width="0.7"/>
<line x1="267.4" y1="216.96" x2="267.4" y2="223.16" stroke="#50608a" stroke-width="0.7"/>
<line x1="266" y1="216.96" x2="268.8" y2="216.96" stroke="#50608a" stroke-width="0.7"/>
<line x1="266" y1="223.16" x2="268.8" y2="223.16" stroke="#50608a" stroke-width="0.7"/>
<line x1="279.9" y1="215.72" x2="279.9" y2="223.16" stroke="#50608a" stroke-width="0.7"/>
<line x1="278.5" y1="215.72" x2="281.3" y2="215.72" stroke="#50608a" stroke-width="0.7"/>
<line x1="278.5" y1="223.16" x2="281.3" y2="223.16" stroke="#50608a" stroke-width="0.7"/>
<line x1="292.4" y1="225.65" x2="292.4" y2="228.13" stroke="#50608a" stroke-width="0.7"/>
<line x1="291" y1="225.65" x2="293.8" y2="225.65" stroke="#50608a" stroke-width="0.7"/>
<line x1="291" y1="228.13" x2="293.8" y2="228.13" stroke="#50608a" stroke-width="0.7"/>
<line x1="304.9" y1="234.64" x2="304.9" y2="237.12" stroke="#50608a" stroke-width="0.7"/>
<line x1="303.5" y1="234.64" x2="306.3" y2="234.64" stroke="#50608a" stroke-width="0.7"/>
<line x1="303.5" y1="237.12" x2="306.3" y2="237.12" stroke="#50608a" stroke-width="0.7"/>
<line x1="317.4" y1="245.13" x2="317.4" y2="247.61" stroke="#50608a" stroke-width="0.7"/>
<line x1="316" y1="245.13" x2="318.8" y2="245.13" stroke="#50608a" stroke-width="0.7"/>
<line x1="316" y1="247.61" x2="318.8" y2="247.61" stroke="#50608a" stroke-width="0.7"/>
<line x1="329.9" y1="252.51" x2="329.9" y2="254.99" stroke="#50608a" stroke-width="0.7"/>
<line x1="328.5" y1="252.51" x2="331.3" y2="252.51" stroke="#50608a" stroke-width="0.7"/>
<line x1="328.5" y1="254.99" x2="331.3" y2="254.99" stroke="#50608a" stroke-width="0.7"/>
<circle cx="242.4" cy="214.48" r="1.6" fill="#1f3060"/>
<circle cx="254.9" cy="216.46" r="1.6" fill="#1f3060"/>
<circle cx="267.4" cy="220.06" r="1.6" fill="#1f3060"/>
<circle cx="279.9" cy="219.44" r="1.6" fill="#1f3060"/>
<circle cx="292.4" cy="226.89" r="1.6" fill="#1f3060"/>
<circle cx="304.9" cy="235.88" r="1.6" fill="#1f3060"/>
<circle cx="317.4" cy="246.37" r="1.6" fill="#1f3060"/>
<circle cx="329.9" cy="253.75" r="1.6" fill="#1f3060"/>
<line x1="228.6" y1="323.4" x2="237.4" y2="323.4" stroke="#2d4f86" stroke-width="0.9"/>
<circle cx="233" cy="323.4" r="1.3" fill="#1f3060"/>
<text x="240.6" y="325.9" font-size="7.0" text-anchor="start" font-weight="normal" fill="#1a1a1a" textLength="51.2" lengthAdjust="spacingAndGlyphs">CD34+ (Healthy</text>
<text x="240.6" y="333.9" font-size="7.0" text-anchor="start" font-weight="normal" fill="#1a1a1a" textLength="19.8" lengthAdjust="spacingAndGlyphs">donor)</text>
<line x1="298.5" y1="323.4" x2="307" y2="323.4" stroke="#60c070" stroke-width="0.9"/>
<path d="M302.8,321.76 L304.3,324.52 L301.31,324.52Z" fill="#3a9c50"/>
<text x="310.2" y="325.9" font-size="7.0" text-anchor="start" font-weight="normal" fill="#1a1a1a" textLength="25.8" lengthAdjust="spacingAndGlyphs">Patient 1</text>
<text x="310.2" y="333.9" font-size="7.0" text-anchor="start" font-weight="normal" fill="#1a1a1a" textLength="36.3" lengthAdjust="spacingAndGlyphs">(KMT2A-wt)</text>
<line x1="228.6" y1="342.6" x2="237.4" y2="342.6" stroke="#d02a4e" stroke-width="0.9"/>
<rect x="231.7" y="341.3" width="2.6" height="2.6" fill="#b81838"/>
<text x="240.6" y="345.1" font-size="7.0" text-anchor="start" font-weight="normal" fill="#1a1a1a" textLength="51.8" lengthAdjust="spacingAndGlyphs">PBMCs (Healthy</text>
<text x="240.6" y="352.8" font-size="7.0" text-anchor="start" font-weight="normal" fill="#1a1a1a" textLength="19.8" lengthAdjust="spacingAndGlyphs">donor)</text>
<line x1="298.5" y1="342.6" x2="307" y2="342.6" stroke="#5e2f6e" stroke-width="0.9"/>
<path d="M302.8,344.24 L304.3,341.48 L301.31,341.48Z" fill="#2e1a40"/>
<text x="310.2" y="345.1" font-size="7.0" text-anchor="start" font-weight="normal" fill="#1a1a1a" textLength="26.2" lengthAdjust="spacingAndGlyphs">Patient 2</text>
<text x="310.2" y="352.8" font-size="7.0" text-anchor="start" font-weight="normal" fill="#1a1a1a" textLength="30.9" lengthAdjust="spacingAndGlyphs">(KMT2A-r)</text>
<text x="0" y="0" transform="translate(378.5,68) rotate(-90)" font-size="8.2" text-anchor="middle" font-weight="normal" fill="#1a1a1a" stroke="#1a1a1a" stroke-width="0.15" textLength="69.6" lengthAdjust="spacingAndGlyphs">% Annexin V positive cells</text>
<line x1="398.6" y1="34.2" x2="398.6" y2="110.6" stroke="#1a1a1a" stroke-width="1.2"/>
<line x1="396.1" y1="109.6" x2="398.6" y2="109.6" stroke="#1a1a1a" stroke-width="1.0"/>
<text x="392.4" y="111.9" font-size="7.5" text-anchor="end" font-weight="normal" fill="#1a1a1a" stroke="#1a1a1a" stroke-width="0.1">0</text>
<line x1="396.1" y1="90.95" x2="398.6" y2="90.95" stroke="#1a1a1a" stroke-width="1.0"/>
<text x="392.4" y="93.25" font-size="7.5" text-anchor="end" font-weight="normal" fill="#1a1a1a" stroke="#1a1a1a" stroke-width="0.1">20</text>
<line x1="396.1" y1="72.3" x2="398.6" y2="72.3" stroke="#1a1a1a" stroke-width="1.0"/>
<text x="392.4" y="74.6" font-size="7.5" text-anchor="end" font-weight="normal" fill="#1a1a1a" stroke="#1a1a1a" stroke-width="0.1">40</text>
<line x1="396.1" y1="53.65" x2="398.6" y2="53.65" stroke="#1a1a1a" stroke-width="1.0"/>
<text x="392.4" y="55.95" font-size="7.5" text-anchor="end" font-weight="normal" fill="#1a1a1a" stroke="#1a1a1a" stroke-width="0.1">60</text>
<line x1="396.1" y1="35" x2="398.6" y2="35" stroke="#1a1a1a" stroke-width="1.0"/>
<text x="392.4" y="37.3" font-size="7.5" text-anchor="end" font-weight="normal" fill="#1a1a1a" stroke="#1a1a1a" stroke-width="0.1">80</text>
<line x1="398" y1="110" x2="510.5" y2="110" stroke="#1a1a1a" stroke-width="1.2"/>
<line x1="408" y1="110" x2="408" y2="112.5" stroke="#1a1a1a" stroke-width="1.0"/>
<line x1="419.8" y1="110" x2="419.8" y2="112.5" stroke="#1a1a1a" stroke-width="1.0"/>
<line x1="431.4" y1="110" x2="431.4" y2="112.5" stroke="#1a1a1a" stroke-width="1.0"/>
<line x1="443.2" y1="110" x2="443.2" y2="112.5" stroke="#1a1a1a" stroke-width="1.0"/>
<line x1="463.6" y1="110" x2="463.6" y2="112.5" stroke="#1a1a1a" stroke-width="1.0"/>
<line x1="475.5" y1="110" x2="475.5" y2="112.5" stroke="#1a1a1a" stroke-width="1.0"/>
<line x1="487.3" y1="110" x2="487.3" y2="112.5" stroke="#1a1a1a" stroke-width="1.0"/>
<line x1="499.2" y1="110" x2="499.2" y2="112.5" stroke="#1a1a1a" stroke-width="1.0"/>
<rect x="403.8" y="107.08" width="8.4" height="2.52" fill="#1f5f8f"/>
<line x1="408" y1="107.08" x2="408" y2="106.71" stroke="#173a5c" stroke-width="0.8"/>
<line x1="406.3" y1="106.71" x2="409.7" y2="106.71" stroke="#173a5c" stroke-width="0.8"/>
<rect x="415.6" y="106.62" width="8.4" height="2.98" fill="#1f5f8f"/>
<line x1="419.8" y1="106.62" x2="419.8" y2="105.4" stroke="#173a5c" stroke-width="0.8"/>
<line x1="418.1" y1="105.4" x2="421.5" y2="105.4" stroke="#173a5c" stroke-width="0.8"/>
<rect x="427.2" y="105.68" width="8.4" height="3.92" fill="#1f5f8f"/>
<line x1="431.4" y1="105.68" x2="431.4" y2="104.94" stroke="#173a5c" stroke-width="0.8"/>
<line x1="429.7" y1="104.94" x2="433.1" y2="104.94" stroke="#173a5c" stroke-width="0.8"/>
<rect x="439" y="103.07" width="8.4" height="6.53" fill="#1f5f8f"/>
<line x1="443.2" y1="103.07" x2="443.2" y2="100.27" stroke="#173a5c" stroke-width="0.8"/>
<line x1="441.5" y1="100.27" x2="444.9" y2="100.27" stroke="#173a5c" stroke-width="0.8"/>
<rect x="471.3" y="103.35" width="8.4" height="6.25" fill="#3cb44a"/>
<line x1="475.5" y1="103.35" x2="475.5" y2="98.5" stroke="#1e3a22" stroke-width="0.8"/>
<line x1="473.8" y1="98.5" x2="477.2" y2="98.5" stroke="#1e3a22" stroke-width="0.8"/>
<rect x="483.1" y="96.54" width="8.4" height="13.06" fill="#3cb44a"/>
<line x1="487.3" y1="96.54" x2="487.3" y2="89.08" stroke="#1e3a22" stroke-width="0.8"/>
<line x1="485.6" y1="89.08" x2="489" y2="89.08" stroke="#1e3a22" stroke-width="0.8"/>
<rect x="495" y="65.31" width="8.4" height="44.29" fill="#3cb44a"/>
<line x1="499.2" y1="65.31" x2="499.2" y2="49.92" stroke="#1e3a22" stroke-width="0.8"/>
<line x1="497.5" y1="49.92" x2="500.9" y2="49.92" stroke="#1e3a22" stroke-width="0.8"/>
<line x1="398" y1="110" x2="510.5" y2="110" stroke="#1a1a1a" stroke-width="1.2"/>
<text x="0" y="0" transform="translate(412.3,120.6) rotate(-45)" font-size="7.5" text-anchor="end" font-weight="normal" fill="#1a1a1a" stroke="#1a1a1a" stroke-width="0.1">DMSO</text>
<text x="0" y="0" transform="translate(424.1,120.6) rotate(-45)" font-size="7.5" text-anchor="end" font-weight="normal" fill="#1a1a1a" stroke="#1a1a1a" stroke-width="0.1">25</text>
<text x="0" y="0" transform="translate(435.7,120.6) rotate(-45)" font-size="7.5" text-anchor="end" font-weight="normal" fill="#1a1a1a" stroke="#1a1a1a" stroke-width="0.1">50</text>
<text x="0" y="0" transform="translate(447.5,120.6) rotate(-45)" font-size="7.5" text-anchor="end" font-weight="normal" fill="#1a1a1a" stroke="#1a1a1a" stroke-width="0.1">100</text>
<text x="0" y="0" transform="translate(467.9,120.6) rotate(-45)" font-size="7.5" text-anchor="end" font-weight="normal" fill="#1a1a1a" stroke="#1a1a1a" stroke-width="0.1">DMSO</text>
<text x="0" y="0" transform="translate(479.8,120.6) rotate(-45)" font-size="7.5" text-anchor="end" font-weight="normal" fill="#1a1a1a" stroke="#1a1a1a" stroke-width="0.1">25</text>
<text x="0" y="0" transform="translate(491.6,120.6) rotate(-45)" font-size="7.5" text-anchor="end" font-weight="normal" fill="#1a1a1a" stroke="#1a1a1a" stroke-width="0.1">50</text>
<text x="0" y="0" transform="translate(503.5,120.6) rotate(-45)" font-size="7.5" text-anchor="end" font-weight="normal" fill="#1a1a1a" stroke="#1a1a1a" stroke-width="0.1">100</text>
<polyline points="463.9,99.4 463.9,35.8 499.4,35.8 499.4,43.8" fill="none" stroke="#444" stroke-width="0.9"/>
<text x="481.9" y="31.5" font-size="7.0" text-anchor="middle" font-weight="normal" fill="#1a1a1a" textLength="18.3" lengthAdjust="spacingAndGlyphs">(0.07)</text>
<rect x="412.3" y="142.6" width="5.8" height="5.6" fill="#1f5f8f"/>
<rect x="412.3" y="153.0" width="5.8" height="5.6" fill="#3cb44a"/>
<text x="421.4" y="148" font-size="7.0" text-anchor="start" font-weight="normal" fill="#1a1a1a" textLength="73.8" lengthAdjust="spacingAndGlyphs">PBMCs (Healthy donor)</text>
<text x="421.4" y="157.9" font-size="7.0" text-anchor="start" font-weight="normal" fill="#1a1a1a" textLength="57.6" lengthAdjust="spacingAndGlyphs">KOPN8 (KMT2A-r)</text>
<text x="453.8" y="195.8" font-size="8.8" text-anchor="middle" font-weight="normal" fill="#1a1a1a" stroke="#1a1a1a" stroke-width="0.12" textLength="100" lengthAdjust="spacingAndGlyphs">MV4-11 01127 nude rats</text>
<text x="0" y="0" transform="translate(374.9,238.6) rotate(-90)" font-size="8.0" text-anchor="middle" font-weight="normal" fill="#1a1a1a" stroke="#1a1a1a" stroke-width="0.15" textLength="64.8" lengthAdjust="spacingAndGlyphs">Tumor area [mm<tspan font-size="4" dy="-2.5">2</tspan><tspan dy="2.5"> +/-SD]</tspan></text>
<line x1="398.5" y1="201.6" x2="398.5" y2="279.7" stroke="#1a1a1a" stroke-width="1.2"/>
<line x1="396" y1="279.1" x2="398.5" y2="279.1" stroke="#1a1a1a" stroke-width="1.0"/>
<text x="392.6" y="281.4" font-size="7.5" text-anchor="end" font-weight="normal" fill="#1a1a1a" stroke="#1a1a1a" stroke-width="0.1">0</text>
<line x1="396" y1="253.47" x2="398.5" y2="253.47" stroke="#1a1a1a" stroke-width="1.0"/>
<text x="392.6" y="255.77" font-size="7.5" text-anchor="end" font-weight="normal" fill="#1a1a1a" stroke="#1a1a1a" stroke-width="0.1">100</text>
<line x1="396" y1="227.84" x2="398.5" y2="227.84" stroke="#1a1a1a" stroke-width="1.0"/>
<text x="392.6" y="230.14" font-size="7.5" text-anchor="end" font-weight="normal" fill="#1a1a1a" stroke="#1a1a1a" stroke-width="0.1">200</text>
<line x1="396" y1="202.21" x2="398.5" y2="202.21" stroke="#1a1a1a" stroke-width="1.0"/>
<text x="392.6" y="204.51" font-size="7.5" text-anchor="end" font-weight="normal" fill="#1a1a1a" stroke="#1a1a1a" stroke-width="0.1">300</text>
<line x1="397.9" y1="279.1" x2="507.5" y2="279.1" stroke="#1a1a1a" stroke-width="1.2"/>
<line x1="398.8" y1="279.1" x2="398.8" y2="281.6" stroke="#1a1a1a" stroke-width="1.0"/>
<line x1="420.4" y1="279.1" x2="420.4" y2="281.6" stroke="#1a1a1a" stroke-width="1.0"/>
<line x1="442" y1="279.1" x2="442" y2="281.6" stroke="#1a1a1a" stroke-width="1.0"/>
<line x1="463.6" y1="279.1" x2="463.6" y2="281.6" stroke="#1a1a1a" stroke-width="1.0"/>
<line x1="485.2" y1="279.1" x2="485.2" y2="281.6" stroke="#1a1a1a" stroke-width="1.0"/>
<line x1="506.8" y1="279.1" x2="506.8" y2="281.6" stroke="#1a1a1a" stroke-width="1.0"/>
<text x="398.8" y="291" font-size="7.6" text-anchor="middle" font-weight="normal" fill="#1a1a1a" stroke="#1a1a1a" stroke-width="0.1">0</text>
<text x="420.4" y="291" font-size="7.6" text-anchor="middle" font-weight="normal" fill="#1a1a1a" stroke="#1a1a1a" stroke-width="0.1">20</text>
<text x="442" y="291" font-size="7.6" text-anchor="middle" font-weight="normal" fill="#1a1a1a" stroke="#1a1a1a" stroke-width="0.1">40</text>
<text x="463.6" y="291" font-size="7.6" text-anchor="middle" font-weight="normal" fill="#1a1a1a" stroke="#1a1a1a" stroke-width="0.1">60</text>
<text x="485.2" y="291" font-size="7.6" text-anchor="middle" font-weight="normal" fill="#1a1a1a" stroke="#1a1a1a" stroke-width="0.1">80</text>
<text x="506.8" y="291" font-size="7.6" text-anchor="middle" font-weight="normal" fill="#1a1a1a" stroke="#1a1a1a" stroke-width="0.1">100</text>
<text x="453.8" y="304.2" font-size="8.3" text-anchor="middle" font-weight="bold" fill="#1a1a1a" textLength="72.5" lengthAdjust="spacingAndGlyphs">Days after treatment start</text>
<path d="M405.9,221.2 L409.5,221.2 L407.7,224.4Z" fill="#111"/>
<path d="M414,221.2 L417.6,221.2 L415.8,224.4Z" fill="#111"/>
<path d="M422.4,221.2 L426,221.2 L424.2,224.4Z" fill="#111"/>
<polyline points="409.49,265.52 411.33,262.7 414.57,257.31 417.38,254.24 421.16,252.44 423.21,251.16" fill="none" stroke="#c4c4c4" stroke-width="0.8" stroke-linejoin="round"/>
<line x1="409.49" y1="264.23" x2="409.49" y2="266.8" stroke="#c4c4c4" stroke-width="0.6"/>
<line x1="408.29" y1="264.23" x2="410.69" y2="264.23" stroke="#c4c4c4" stroke-width="0.6"/>
<line x1="408.29" y1="266.8" x2="410.69" y2="266.8" stroke="#c4c4c4" stroke-width="0.6"/>
<circle cx="409.49" cy="265.52" r="0.9" fill="#c8c8c8"/>
<line x1="411.33" y1="259.88" x2="411.33" y2="265.52" stroke="#c4c4c4" stroke-width="0.6"/>
<line x1="410.13" y1="259.88" x2="412.53" y2="259.88" stroke="#c4c4c4" stroke-width="0.6"/>
<line x1="410.13" y1="265.52" x2="412.53" y2="265.52" stroke="#c4c4c4" stroke-width="0.6"/>
<circle cx="411.33" cy="262.7" r="0.9" fill="#c8c8c8"/>
<line x1="414.57" y1="251.68" x2="414.57" y2="262.95" stroke="#c4c4c4" stroke-width="0.6"/>
<line x1="413.37" y1="251.68" x2="415.77" y2="251.68" stroke="#c4c4c4" stroke-width="0.6"/>
<line x1="413.37" y1="262.95" x2="415.77" y2="262.95" stroke="#c4c4c4" stroke-width="0.6"/>
<circle cx="414.57" cy="257.31" r="0.9" fill="#c8c8c8"/>
<line x1="417.38" y1="246.55" x2="417.38" y2="261.93" stroke="#c4c4c4" stroke-width="0.6"/>
<line x1="416.18" y1="246.55" x2="418.58" y2="246.55" stroke="#c4c4c4" stroke-width="0.6"/>
<line x1="416.18" y1="261.93" x2="418.58" y2="261.93" stroke="#c4c4c4" stroke-width="0.6"/>
<circle cx="417.38" cy="254.24" r="0.9" fill="#c8c8c8"/>
<line x1="421.16" y1="240.91" x2="421.16" y2="263.98" stroke="#c4c4c4" stroke-width="0.6"/>
<line x1="419.96" y1="240.91" x2="422.36" y2="240.91" stroke="#c4c4c4" stroke-width="0.6"/>
<line x1="419.96" y1="263.98" x2="422.36" y2="263.98" stroke="#c4c4c4" stroke-width="0.6"/>
<circle cx="421.16" cy="252.44" r="0.9" fill="#c8c8c8"/>
<line x1="423.21" y1="237.58" x2="423.21" y2="264.75" stroke="#c4c4c4" stroke-width="0.6"/>
<line x1="422.01" y1="237.58" x2="424.41" y2="237.58" stroke="#c4c4c4" stroke-width="0.6"/>
<line x1="422.01" y1="264.75" x2="424.41" y2="264.75" stroke="#c4c4c4" stroke-width="0.6"/>
<circle cx="423.21" cy="251.16" r="0.9" fill="#c8c8c8"/>
<polyline points="408.74,267.82 410.25,270.39 413.81,272.69 415.86,274.74 418.13,276.9 420.18,278.33 423.1,279.1 426.3,279.1 431.5,279.1 436.1,279.1 439.6,279.1 441.9,279.1 444.8,279.1 448.3,279.1 451.7,279.1 454.6,279.1 458,279.1 462.1,279.1 465.4,277.05 471.1,276.02 475.7,274.49 478.8,273.46 483,271.92 486.5,270.13 491.9,267.57 498.1,265" fill="none" stroke="#2c5f94" stroke-width="0.9" stroke-linejoin="round"/>
<line x1="408.74" y1="264.23" x2="408.74" y2="271.41" stroke="#4a72a0" stroke-width="0.65"/>
<line x1="407.54" y1="264.23" x2="409.94" y2="264.23" stroke="#4a72a0" stroke-width="0.65"/>
<line x1="407.54" y1="271.41" x2="409.94" y2="271.41" stroke="#4a72a0" stroke-width="0.65"/>
<line x1="410.25" y1="267.31" x2="410.25" y2="273.46" stroke="#4a72a0" stroke-width="0.65"/>
<line x1="409.05" y1="267.31" x2="411.45" y2="267.31" stroke="#4a72a0" stroke-width="0.65"/>
<line x1="409.05" y1="273.46" x2="411.45" y2="273.46" stroke="#4a72a0" stroke-width="0.65"/>
<line x1="413.81" y1="270.13" x2="413.81" y2="275.26" stroke="#4a72a0" stroke-width="0.65"/>
<line x1="412.61" y1="270.13" x2="415.01" y2="270.13" stroke="#4a72a0" stroke-width="0.65"/>
<line x1="412.61" y1="275.26" x2="415.01" y2="275.26" stroke="#4a72a0" stroke-width="0.65"/>
<line x1="415.86" y1="272.69" x2="415.86" y2="276.79" stroke="#4a72a0" stroke-width="0.65"/>
<line x1="414.66" y1="272.69" x2="417.06" y2="272.69" stroke="#4a72a0" stroke-width="0.65"/>
<line x1="414.66" y1="276.79" x2="417.06" y2="276.79" stroke="#4a72a0" stroke-width="0.65"/>
<line x1="418.13" y1="275.61" x2="418.13" y2="278.18" stroke="#4a72a0" stroke-width="0.65"/>
<line x1="416.93" y1="275.61" x2="419.33" y2="275.61" stroke="#4a72a0" stroke-width="0.65"/>
<line x1="416.93" y1="278.18" x2="419.33" y2="278.18" stroke="#4a72a0" stroke-width="0.65"/>
<line x1="420.18" y1="277.56" x2="420.18" y2="279.1" stroke="#52698a" stroke-width="0.7"/>
<line x1="418.88" y1="277.56" x2="421.48" y2="277.56" stroke="#52698a" stroke-width="0.7"/>
<line x1="423.1" y1="278.84" x2="423.1" y2="279.1" stroke="#52698a" stroke-width="0.7"/>
<line x1="421.8" y1="278.84" x2="424.4" y2="278.84" stroke="#52698a" stroke-width="0.7"/>
<line x1="426.3" y1="278.97" x2="426.3" y2="279.1" stroke="#52698a" stroke-width="0.7"/>
<line x1="425" y1="278.97" x2="427.6" y2="278.97" stroke="#52698a" stroke-width="0.7"/>
<line x1="431.5" y1="278.97" x2="431.5" y2="279.1" stroke="#52698a" stroke-width="0.7"/>
<line x1="430.2" y1="278.97" x2="432.8" y2="278.97" stroke="#52698a" stroke-width="0.7"/>
<line x1="436.1" y1="278.97" x2="436.1" y2="279.1" stroke="#52698a" stroke-width="0.7"/>
<line x1="434.8" y1="278.97" x2="437.4" y2="278.97" stroke="#52698a" stroke-width="0.7"/>
<line x1="439.6" y1="278.97" x2="439.6" y2="279.1" stroke="#52698a" stroke-width="0.7"/>
<line x1="438.3" y1="278.97" x2="440.9" y2="278.97" stroke="#52698a" stroke-width="0.7"/>
<line x1="441.9" y1="278.97" x2="441.9" y2="279.1" stroke="#52698a" stroke-width="0.7"/>
<line x1="440.6" y1="278.97" x2="443.2" y2="278.97" stroke="#52698a" stroke-width="0.7"/>
<line x1="444.8" y1="278.97" x2="444.8" y2="279.1" stroke="#52698a" stroke-width="0.7"/>
<line x1="443.5" y1="278.97" x2="446.1" y2="278.97" stroke="#52698a" stroke-width="0.7"/>
<line x1="448.3" y1="278.97" x2="448.3" y2="279.1" stroke="#52698a" stroke-width="0.7"/>
<line x1="447" y1="278.97" x2="449.6" y2="278.97" stroke="#52698a" stroke-width="0.7"/>
<line x1="451.7" y1="278.97" x2="451.7" y2="279.1" stroke="#52698a" stroke-width="0.7"/>
<line x1="450.4" y1="278.97" x2="453" y2="278.97" stroke="#52698a" stroke-width="0.7"/>
<line x1="454.6" y1="278.97" x2="454.6" y2="279.1" stroke="#52698a" stroke-width="0.7"/>
<line x1="453.3" y1="278.97" x2="455.9" y2="278.97" stroke="#52698a" stroke-width="0.7"/>
<line x1="458" y1="278.97" x2="458" y2="279.1" stroke="#52698a" stroke-width="0.7"/>
<line x1="456.7" y1="278.97" x2="459.3" y2="278.97" stroke="#52698a" stroke-width="0.7"/>
<line x1="462.1" y1="278.97" x2="462.1" y2="279.1" stroke="#52698a" stroke-width="0.7"/>
<line x1="460.8" y1="278.97" x2="463.4" y2="278.97" stroke="#52698a" stroke-width="0.7"/>
<line x1="465.4" y1="271.92" x2="465.4" y2="279.1" stroke="#52698a" stroke-width="0.7"/>
<line x1="464.1" y1="271.92" x2="466.7" y2="271.92" stroke="#52698a" stroke-width="0.7"/>
<line x1="471.1" y1="268.85" x2="471.1" y2="279.1" stroke="#52698a" stroke-width="0.7"/>
<line x1="469.8" y1="268.85" x2="472.4" y2="268.85" stroke="#52698a" stroke-width="0.7"/>
<line x1="475.7" y1="262.7" x2="475.7" y2="279.1" stroke="#52698a" stroke-width="0.7"/>
<line x1="474.4" y1="262.7" x2="477" y2="262.7" stroke="#52698a" stroke-width="0.7"/>
<line x1="478.8" y1="260.65" x2="478.8" y2="279.1" stroke="#52698a" stroke-width="0.7"/>
<line x1="477.5" y1="260.65" x2="480.1" y2="260.65" stroke="#52698a" stroke-width="0.7"/>
<line x1="483" y1="257.06" x2="483" y2="279.1" stroke="#52698a" stroke-width="0.7"/>
<line x1="481.7" y1="257.06" x2="484.3" y2="257.06" stroke="#52698a" stroke-width="0.7"/>
<line x1="486.5" y1="251.93" x2="486.5" y2="279.1" stroke="#52698a" stroke-width="0.7"/>
<line x1="485.2" y1="251.93" x2="487.8" y2="251.93" stroke="#52698a" stroke-width="0.7"/>
<line x1="491.9" y1="242.96" x2="491.9" y2="279.1" stroke="#52698a" stroke-width="0.7"/>
<line x1="490.6" y1="242.96" x2="493.2" y2="242.96" stroke="#52698a" stroke-width="0.7"/>
<line x1="498.1" y1="228.1" x2="498.1" y2="279.1" stroke="#52698a" stroke-width="0.7"/>
<line x1="496.8" y1="228.1" x2="499.4" y2="228.1" stroke="#52698a" stroke-width="0.7"/>
<path d="M408.74,266.43 L410,268.77 L407.47,268.77Z" fill="#1b4775"/>
<path d="M410.25,268.99 L411.51,271.33 L408.98,271.33Z" fill="#1b4775"/>
<path d="M413.81,271.3 L415.08,273.64 L412.55,273.64Z" fill="#1b4775"/>
<path d="M415.86,273.35 L417.13,275.69 L414.6,275.69Z" fill="#1b4775"/>
<path d="M418.13,275.5 L419.4,277.84 L416.87,277.84Z" fill="#1b4775"/>
<path d="M420.18,276.94 L421.45,279.28 L418.92,279.28Z" fill="#1b4775"/>
<path d="M423.1,277.71 L424.37,280.05 L421.84,280.05Z" fill="#1b4775"/>
<path d="M426.3,277.71 L427.56,280.05 L425.04,280.05Z" fill="#1b4775"/>
<path d="M431.5,277.71 L432.76,280.05 L430.24,280.05Z" fill="#1b4775"/>
<path d="M436.1,277.71 L437.37,280.05 L434.84,280.05Z" fill="#1b4775"/>
<path d="M439.6,277.71 L440.87,280.05 L438.34,280.05Z" fill="#1b4775"/>
<path d="M441.9,277.71 L443.16,280.05 L440.63,280.05Z" fill="#1b4775"/>
<path d="M444.8,277.71 L446.06,280.05 L443.54,280.05Z" fill="#1b4775"/>
<path d="M448.3,277.71 L449.56,280.05 L447.04,280.05Z" fill="#1b4775"/>
<path d="M451.7,277.71 L452.96,280.05 L450.44,280.05Z" fill="#1b4775"/>
<path d="M454.6,277.71 L455.87,280.05 L453.34,280.05Z" fill="#1b4775"/>
<path d="M458,277.71 L459.26,280.05 L456.74,280.05Z" fill="#1b4775"/>
<path d="M462.1,277.71 L463.37,280.05 L460.84,280.05Z" fill="#1b4775"/>
<path d="M465.4,275.66 L466.66,278 L464.13,278Z" fill="#1b4775"/>
<path d="M471.1,274.63 L472.37,276.97 L469.84,276.97Z" fill="#1b4775"/>
<path d="M475.7,273.1 L476.96,275.44 L474.44,275.44Z" fill="#1b4775"/>
<path d="M478.8,272.07 L480.06,274.41 L477.54,274.41Z" fill="#1b4775"/>
<path d="M483,270.53 L484.26,272.87 L481.74,272.87Z" fill="#1b4775"/>
<path d="M486.5,268.74 L487.76,271.08 L485.24,271.08Z" fill="#1b4775"/>
<path d="M491.9,266.18 L493.16,268.52 L490.63,268.52Z" fill="#1b4775"/>
<path d="M498.1,263.61 L499.37,265.95 L496.84,265.95Z" fill="#1b4775"/>
<line x1="409.5" y1="313.5" x2="416" y2="313.5" stroke="#d0d0d0" stroke-width="0.8"/>
<text x="420.3" y="316" font-size="6.8" text-anchor="start" font-weight="normal" fill="#1a1a1a" textLength="21.3" lengthAdjust="spacingAndGlyphs">Vehicle</text>
<line x1="410" y1="323.5" x2="417" y2="323.5" stroke="#8aa8cc" stroke-width="0.7"/>
<path d="M413.9,321.86 L415.39,324.62 L412.4,324.62Z" fill="#1b4775"/>
<text x="420.3" y="326" font-size="6.9" text-anchor="start" font-weight="normal" fill="#1a1a1a" textLength="78" lengthAdjust="spacingAndGlyphs">VIP 152 4,5mg/kg QW <tspan font-style="italic">iv</tspan>.</text>
</g>
<rect x="0.5" y="0.5" width="519" height="361" fill="none" stroke="#575757" stroke-width="1"/>
</svg>
</body></html>
